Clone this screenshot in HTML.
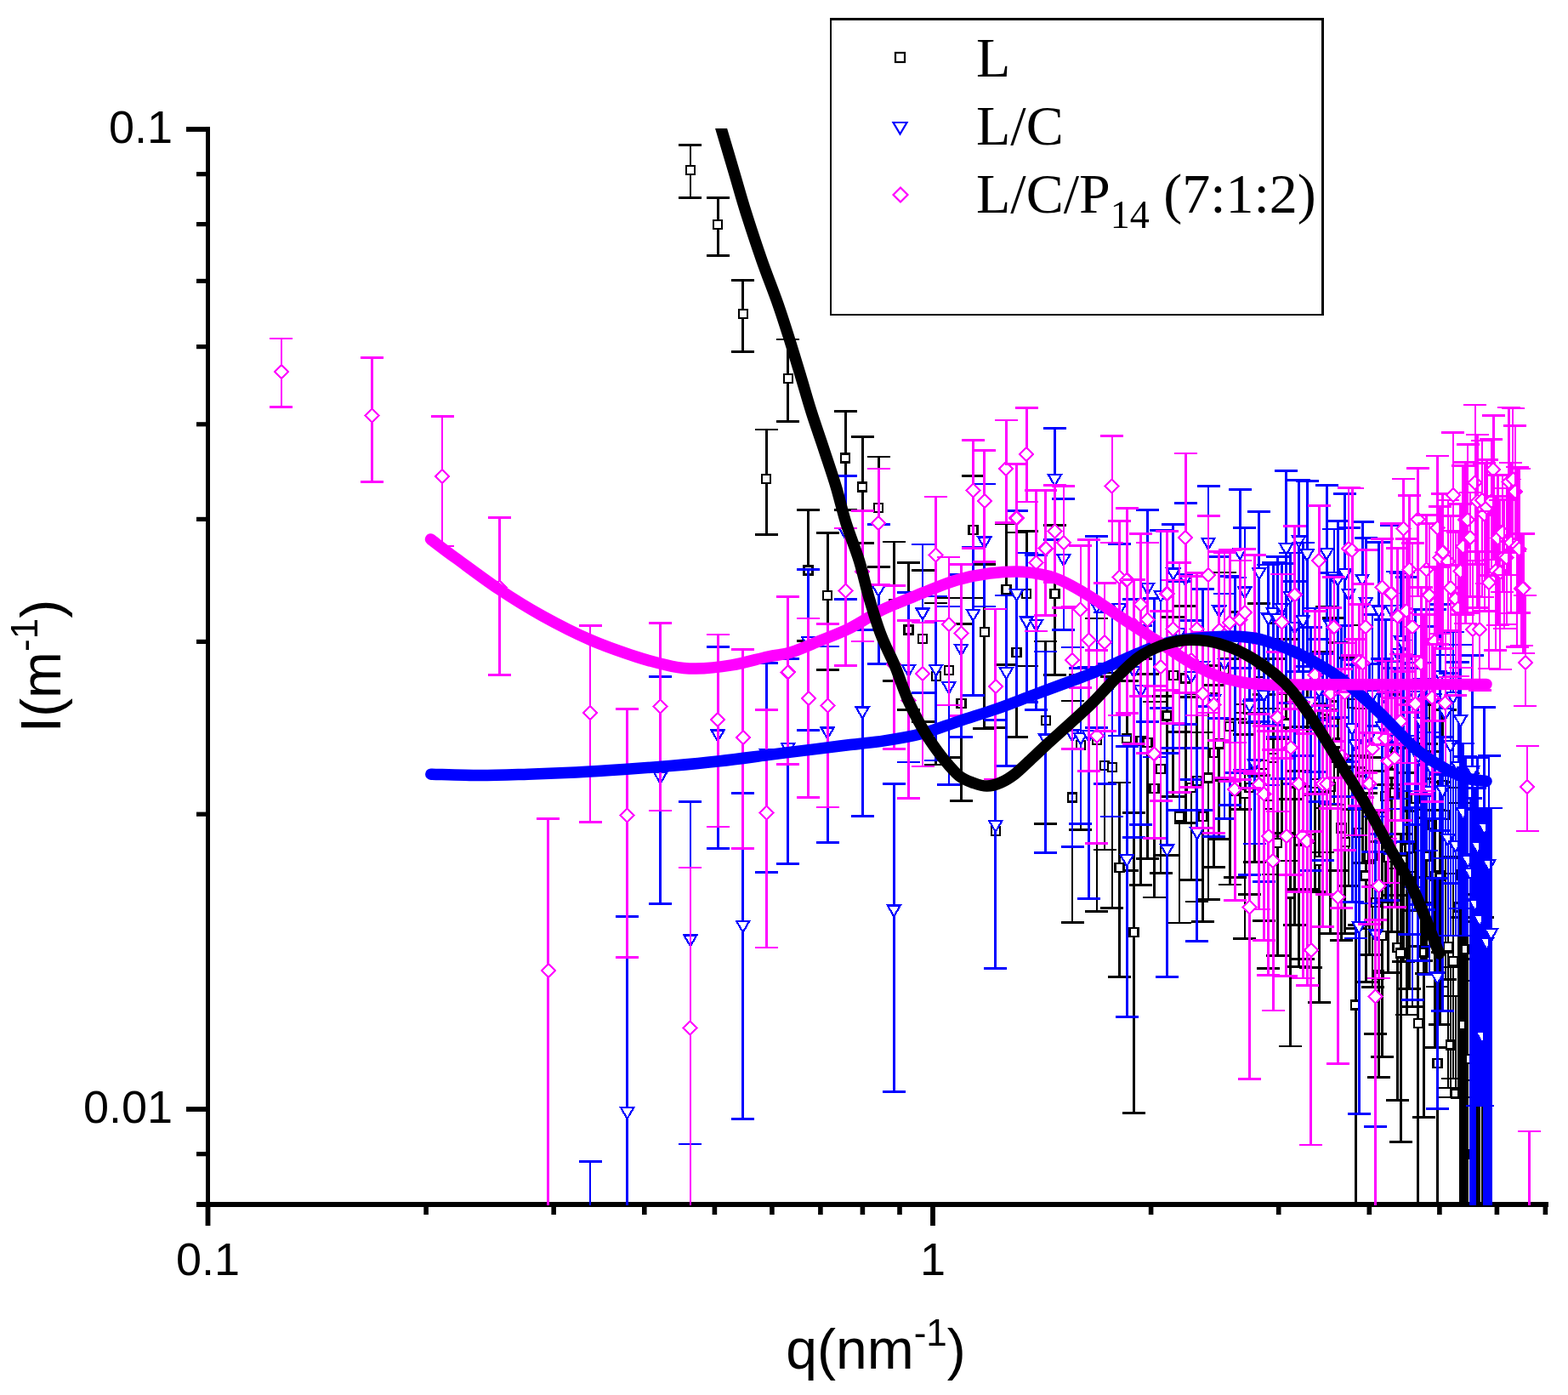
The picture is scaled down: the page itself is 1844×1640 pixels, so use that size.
<!DOCTYPE html>
<html><head><meta charset="utf-8"><title>plot</title>
<style>html,body{margin:0;padding:0;background:#fff;width:1844px;height:1640px;overflow:hidden}</style>
</head><body>
<svg width="1844" height="1640" viewBox="0 0 1844 1640" style="position:absolute;left:0;top:0">
<defs><clipPath id="pc"><rect x="244" y="151" width="1577" height="1266"/></clipPath></defs>
<rect x="242" y="149" width="5" height="1292" fill="#000"/>
<rect x="231" y="1413" width="1590" height="6" fill="#000"/>
<rect x="219" y="1301.1" width="26" height="5.8" fill="#000"/>
<rect x="231" y="954.6" width="14" height="5.2" fill="#000"/>
<rect x="231" y="751.8" width="14" height="5.2" fill="#000"/>
<rect x="231" y="607.8" width="14" height="5.2" fill="#000"/>
<rect x="231" y="496.2" width="14" height="5.2" fill="#000"/>
<rect x="231" y="405.0" width="14" height="5.2" fill="#000"/>
<rect x="231" y="327.8" width="14" height="5.2" fill="#000"/>
<rect x="231" y="261.0" width="14" height="5.2" fill="#000"/>
<rect x="231" y="202.1" width="14" height="5.2" fill="#000"/>
<rect x="219" y="149.1" width="26" height="5.8" fill="#000"/>
<rect x="231" y="1413.0" width="14" height="5.2" fill="#000"/>
<rect x="231" y="1354.1" width="14" height="5.2" fill="#000"/>
<rect x="241.6" y="1415" width="5.8" height="26" fill="#000"/>
<rect x="498.3" y="1415" width="5.6" height="13" fill="#000"/>
<rect x="648.4" y="1415" width="5.6" height="13" fill="#000"/>
<rect x="755.0" y="1415" width="5.6" height="13" fill="#000"/>
<rect x="837.6" y="1415" width="5.6" height="13" fill="#000"/>
<rect x="905.1" y="1415" width="5.6" height="13" fill="#000"/>
<rect x="962.1" y="1415" width="5.6" height="13" fill="#000"/>
<rect x="1011.6" y="1415" width="5.6" height="13" fill="#000"/>
<rect x="1055.2" y="1415" width="5.6" height="13" fill="#000"/>
<rect x="1094.1" y="1415" width="5.8" height="26" fill="#000"/>
<rect x="1350.8" y="1415" width="5.6" height="13" fill="#000"/>
<rect x="1500.9" y="1415" width="5.6" height="13" fill="#000"/>
<rect x="1607.5" y="1415" width="5.6" height="13" fill="#000"/>
<rect x="1690.1" y="1415" width="5.6" height="13" fill="#000"/>
<rect x="1757.6" y="1415" width="5.6" height="13" fill="#000"/>
<rect x="1814.6" y="1415" width="5.6" height="13" fill="#000"/>
<g clip-path="url(#pc)" shape-rendering="crispEdges">
<path d="M811.9,170.7V232.3M798.4,170.7h27M798.4,232.3h27" stroke="#000000" stroke-width="2.8" fill="none"/>
<rect x="806.9" y="195.0" width="10" height="10" fill="#fff" stroke="#000000" stroke-width="2.2"/>
<path d="M844.1,232.3V300.6M830.6,232.3h27M830.6,300.6h27" stroke="#000000" stroke-width="2.8" fill="none"/>
<rect x="839.1" y="259.3" width="10" height="10" fill="#fff" stroke="#000000" stroke-width="2.2"/>
<path d="M873.7,329.5V413.8M860.2,329.5h27M860.2,413.8h27" stroke="#000000" stroke-width="2.8" fill="none"/>
<rect x="868.7" y="364.3" width="10" height="10" fill="#fff" stroke="#000000" stroke-width="2.2"/>
<path d="M901.2,504.9V628.6M887.7,504.9h27M887.7,628.6h27" stroke="#000000" stroke-width="2.8" fill="none"/>
<rect x="896.2" y="558.0" width="10" height="10" fill="#fff" stroke="#000000" stroke-width="2.2"/>
<path d="M926.7,399.0V495.3M913.2,399.0h27M913.2,495.3h27" stroke="#000000" stroke-width="2.8" fill="none"/>
<rect x="921.7" y="440.0" width="10" height="10" fill="#fff" stroke="#000000" stroke-width="2.2"/>
<path d="M950.6,599.5V753.5M937.1,599.5h27M937.1,753.5h27" stroke="#000000" stroke-width="2.8" fill="none"/>
<rect x="945.6" y="665.6" width="10" height="10" fill="#fff" stroke="#000000" stroke-width="2.2"/>
<path d="M973.1,626.2V787.8M959.6,626.2h27M959.6,787.8h27" stroke="#000000" stroke-width="2.8" fill="none"/>
<rect x="968.1" y="695.3" width="10" height="10" fill="#fff" stroke="#000000" stroke-width="2.2"/>
<path d="M994.2,483.7V599.5M980.7,483.7h27M980.7,599.5h27" stroke="#000000" stroke-width="2.8" fill="none"/>
<rect x="989.2" y="533.4" width="10" height="10" fill="#fff" stroke="#000000" stroke-width="2.2"/>
<path d="M1014.2,513.8V638.2M1000.7,513.8h27M1000.7,638.2h27" stroke="#000000" stroke-width="2.8" fill="none"/>
<rect x="1009.2" y="567.6" width="10" height="10" fill="#fff" stroke="#000000" stroke-width="2.2"/>
<path d="M1033.2,537.0V666.5M1019.7,537.0h27M1019.7,666.5h27" stroke="#000000" stroke-width="2.8" fill="none"/>
<rect x="1028.2" y="592.2" width="10" height="10" fill="#fff" stroke="#000000" stroke-width="2.2"/>
<path d="M1051.3,637.0V800.4M1037.8,637.0h27M1037.8,800.4h27" stroke="#000000" stroke-width="2.8" fill="none"/>
<rect x="1046.3" y="705.0" width="10" height="10" fill="#fff" stroke="#000000" stroke-width="2.2"/>
<path d="M1068.5,661.4V834.6M1055.0,661.4h27M1055.0,834.6h27" stroke="#000000" stroke-width="2.8" fill="none"/>
<rect x="1063.5" y="735.6" width="10" height="10" fill="#fff" stroke="#000000" stroke-width="2.2"/>
<path d="M1085.0,670.6V848.3M1071.5,670.6h27M1071.5,848.3h27" stroke="#000000" stroke-width="2.8" fill="none"/>
<rect x="1080.0" y="746.0" width="10" height="10" fill="#fff" stroke="#000000" stroke-width="2.2"/>
<path d="M1100.7,708.9V899.0M1087.2,708.9h27M1087.2,899.0h27" stroke="#000000" stroke-width="2.8" fill="none"/>
<rect x="1095.7" y="790.0" width="10" height="10" fill="#fff" stroke="#000000" stroke-width="2.2"/>
<path d="M1115.9,703.0V890.7M1102.4,703.0h27M1102.4,890.7h27" stroke="#000000" stroke-width="2.8" fill="none"/>
<rect x="1110.9" y="783.2" width="10" height="10" fill="#fff" stroke="#000000" stroke-width="2.2"/>
<path d="M1130.4,733.6V941.6M1116.9,733.6h27M1116.9,941.6h27" stroke="#000000" stroke-width="2.8" fill="none"/>
<rect x="1125.4" y="821.8" width="10" height="10" fill="#fff" stroke="#000000" stroke-width="2.2"/>
<path d="M1144.4,559.5V703.0M1130.9,559.5h27M1130.9,703.0h27" stroke="#000000" stroke-width="2.8" fill="none"/>
<rect x="1139.4" y="617.7" width="10" height="10" fill="#fff" stroke="#000000" stroke-width="2.2"/>
<path d="M1157.8,663.6V856.5M1144.3,663.6h27M1144.3,856.5h27" stroke="#000000" stroke-width="2.8" fill="none"/>
<rect x="1152.8" y="737.8" width="10" height="10" fill="#fff" stroke="#000000" stroke-width="2.2"/>
<path d="M1170.8,855.3V1138.4M1157.3,855.3h27M1157.3,1138.4h27" stroke="#000000" stroke-width="2.8" fill="none"/>
<rect x="1165.8" y="972.1" width="10" height="10" fill="#fff" stroke="#000000" stroke-width="2.2"/>
<path d="M1183.4,615.8V781.4M1169.9,615.8h27M1169.9,781.4h27" stroke="#000000" stroke-width="2.8" fill="none"/>
<rect x="1178.4" y="688.3" width="10" height="10" fill="#fff" stroke="#000000" stroke-width="2.2"/>
<path d="M1195.5,626.0V866.8M1182.0,626.0h27M1182.0,866.8h27" stroke="#000000" stroke-width="2.8" fill="none"/>
<rect x="1190.5" y="762.0" width="10" height="10" fill="#fff" stroke="#000000" stroke-width="2.2"/>
<path d="M1207.3,624.4V783.0M1193.8,624.4h27M1193.8,783.0h27" stroke="#000000" stroke-width="2.8" fill="none"/>
<rect x="1202.3" y="692.8" width="10" height="10" fill="#fff" stroke="#000000" stroke-width="2.2"/>
<path d="M1229.7,754.0V968.2M1216.2,754.0h27M1216.2,968.2h27" stroke="#000000" stroke-width="2.8" fill="none"/>
<rect x="1224.7" y="842.0" width="10" height="10" fill="#fff" stroke="#000000" stroke-width="2.2"/>
<path d="M1240.4,617.5V793.5M1226.9,617.5h27M1226.9,793.5h27" stroke="#000000" stroke-width="2.8" fill="none"/>
<rect x="1235.4" y="692.8" width="10" height="10" fill="#fff" stroke="#000000" stroke-width="2.2"/>
<path d="M1261.0,824.0V1084.7M1247.5,824.0h27M1247.5,1084.7h27" stroke="#000000" stroke-width="2.8" fill="none"/>
<rect x="1256.0" y="932.6" width="10" height="10" fill="#fff" stroke="#000000" stroke-width="2.2"/>
<path d="M1270.9,793.1V975.5M1257.4,793.1h27M1257.4,975.5h27" stroke="#000000" stroke-width="2.8" fill="none"/>
<rect x="1265.9" y="871.0" width="10" height="10" fill="#fff" stroke="#000000" stroke-width="2.2"/>
<path d="M1289.9,727.0V1071.6M1276.4,727.0h27M1276.4,1071.6h27" stroke="#000000" stroke-width="2.8" fill="none"/>
<rect x="1284.9" y="865.2" width="10" height="10" fill="#fff" stroke="#000000" stroke-width="2.2"/>
<path d="M1299.0,791.0V998.9M1285.5,791.0h27M1285.5,998.9h27" stroke="#000000" stroke-width="2.8" fill="none"/>
<rect x="1294.0" y="894.9" width="10" height="10" fill="#fff" stroke="#000000" stroke-width="2.2"/>
<path d="M1307.9,795.4V1067.6M1294.4,795.4h27M1294.4,1067.6h27" stroke="#000000" stroke-width="2.8" fill="none"/>
<rect x="1302.9" y="897.2" width="10" height="10" fill="#fff" stroke="#000000" stroke-width="2.2"/>
<path d="M1325.2,800.4V1023.4M1311.7,800.4h27M1311.7,1023.4h27" stroke="#000000" stroke-width="2.8" fill="none"/>
<rect x="1320.2" y="863.1" width="10" height="10" fill="#fff" stroke="#000000" stroke-width="2.2"/>
<path d="M1341.6,774.7V1040.1M1328.1,774.7h27M1328.1,1040.1h27" stroke="#000000" stroke-width="2.8" fill="none"/>
<rect x="1336.6" y="866.1" width="10" height="10" fill="#fff" stroke="#000000" stroke-width="2.2"/>
<path d="M1349.6,792.7V1009.6M1336.1,792.7h27M1336.1,1009.6h27" stroke="#000000" stroke-width="2.8" fill="none"/>
<rect x="1344.6" y="867.8" width="10" height="10" fill="#fff" stroke="#000000" stroke-width="2.2"/>
<path d="M1357.4,824.9V1054.9M1343.9,824.9h27M1343.9,1054.9h27" stroke="#000000" stroke-width="2.8" fill="none"/>
<rect x="1352.4" y="921.8" width="10" height="10" fill="#fff" stroke="#000000" stroke-width="2.2"/>
<path d="M1365.0,818.4V1026.8M1351.5,818.4h27M1351.5,1026.8h27" stroke="#000000" stroke-width="2.8" fill="none"/>
<rect x="1360.0" y="899.1" width="10" height="10" fill="#fff" stroke="#000000" stroke-width="2.2"/>
<path d="M1372.5,750.9V1005.4M1359.0,750.9h27M1359.0,1005.4h27" stroke="#000000" stroke-width="2.8" fill="none"/>
<rect x="1367.5" y="836.6" width="10" height="10" fill="#fff" stroke="#000000" stroke-width="2.2"/>
<path d="M1379.8,725.3V936.1M1366.3,725.3h27M1366.3,936.1h27" stroke="#000000" stroke-width="2.8" fill="none"/>
<rect x="1374.8" y="789.3" width="10" height="10" fill="#fff" stroke="#000000" stroke-width="2.2"/>
<path d="M1394.1,712.2V967.6M1380.6,712.2h27M1380.6,967.6h27" stroke="#000000" stroke-width="2.8" fill="none"/>
<rect x="1389.1" y="792.4" width="10" height="10" fill="#fff" stroke="#000000" stroke-width="2.2"/>
<path d="M1401.0,819.1V1034.2M1387.5,819.1h27M1387.5,1034.2h27" stroke="#000000" stroke-width="2.8" fill="none"/>
<rect x="1396.0" y="921.0" width="10" height="10" fill="#fff" stroke="#000000" stroke-width="2.2"/>
<path d="M1407.8,815.9V1060.0M1394.3,815.9h27M1394.3,1060.0h27" stroke="#000000" stroke-width="2.8" fill="none"/>
<rect x="1402.8" y="912.7" width="10" height="10" fill="#fff" stroke="#000000" stroke-width="2.2"/>
<path d="M1421.0,815.5V1057.4M1407.5,815.5h27M1407.5,1057.4h27" stroke="#000000" stroke-width="2.8" fill="none"/>
<rect x="1416.0" y="909.6" width="10" height="10" fill="#fff" stroke="#000000" stroke-width="2.2"/>
<path d="M1427.4,805.1V1019.5M1413.9,805.1h27M1413.9,1019.5h27" stroke="#000000" stroke-width="2.8" fill="none"/>
<rect x="1422.4" y="880.0" width="10" height="10" fill="#fff" stroke="#000000" stroke-width="2.2"/>
<path d="M1433.8,782.5V986.5M1420.3,782.5h27M1420.3,986.5h27" stroke="#000000" stroke-width="2.8" fill="none"/>
<rect x="1428.8" y="869.4" width="10" height="10" fill="#fff" stroke="#000000" stroke-width="2.2"/>
<path d="M1440.0,672.9V917.5M1426.5,672.9h27M1426.5,917.5h27" stroke="#000000" stroke-width="2.8" fill="none"/>
<rect x="1435.0" y="782.2" width="10" height="10" fill="#fff" stroke="#000000" stroke-width="2.2"/>
<path d="M1446.1,774.4V1039.9M1432.6,774.4h27M1432.6,1039.9h27" stroke="#000000" stroke-width="2.8" fill="none"/>
<rect x="1441.1" y="849.0" width="10" height="10" fill="#fff" stroke="#000000" stroke-width="2.2"/>
<path d="M1458.1,719.5V951.1M1444.6,719.5h27M1444.6,951.1h27" stroke="#000000" stroke-width="2.8" fill="none"/>
<rect x="1453.1" y="827.8" width="10" height="10" fill="#fff" stroke="#000000" stroke-width="2.2"/>
<path d="M1463.9,863.4V1103.6M1450.4,863.4h27M1450.4,1103.6h27" stroke="#000000" stroke-width="2.8" fill="none"/>
<rect x="1458.9" y="927.7" width="10" height="10" fill="#fff" stroke="#000000" stroke-width="2.2"/>
<path d="M1469.6,849.2V1051.8M1456.1,849.2h27M1456.1,1051.8h27" stroke="#000000" stroke-width="2.8" fill="none"/>
<rect x="1464.6" y="920.8" width="10" height="10" fill="#fff" stroke="#000000" stroke-width="2.2"/>
<path d="M1475.3,838.7V1013.1M1461.8,838.7h27M1461.8,1013.1h27" stroke="#000000" stroke-width="2.8" fill="none"/>
<rect x="1470.3" y="903.1" width="10" height="10" fill="#fff" stroke="#000000" stroke-width="2.2"/>
<path d="M1480.8,709.7V911.3M1467.3,709.7h27M1467.3,911.3h27" stroke="#000000" stroke-width="2.8" fill="none"/>
<rect x="1475.8" y="785.9" width="10" height="10" fill="#fff" stroke="#000000" stroke-width="2.2"/>
<path d="M1486.3,816.2V1082.7M1472.8,816.2h27M1472.8,1082.7h27" stroke="#000000" stroke-width="2.8" fill="none"/>
<rect x="1481.3" y="894.0" width="10" height="10" fill="#fff" stroke="#000000" stroke-width="2.2"/>
<path d="M1491.7,832.9V1138.6M1478.2,832.9h27M1478.2,1138.6h27" stroke="#000000" stroke-width="2.8" fill="none"/>
<rect x="1486.7" y="941.2" width="10" height="10" fill="#fff" stroke="#000000" stroke-width="2.2"/>
<path d="M1497.1,774.7V1027.9M1483.6,774.7h27M1483.6,1027.9h27" stroke="#000000" stroke-width="2.8" fill="none"/>
<rect x="1492.1" y="886.1" width="10" height="10" fill="#fff" stroke="#000000" stroke-width="2.2"/>
<path d="M1502.3,868.4V1123.4M1488.8,868.4h27M1488.8,1123.4h27" stroke="#000000" stroke-width="2.8" fill="none"/>
<rect x="1497.3" y="985.8" width="10" height="10" fill="#fff" stroke="#000000" stroke-width="2.2"/>
<path d="M1507.5,732.5V979.5M1494.0,732.5h27M1494.0,979.5h27" stroke="#000000" stroke-width="2.8" fill="none"/>
<rect x="1502.5" y="806.1" width="10" height="10" fill="#fff" stroke="#000000" stroke-width="2.2"/>
<path d="M1512.6,751.4V1012.0M1499.1,751.4h27M1499.1,1012.0h27" stroke="#000000" stroke-width="2.8" fill="none"/>
<rect x="1507.6" y="845.6" width="10" height="10" fill="#fff" stroke="#000000" stroke-width="2.2"/>
<path d="M1517.6,939.7V1229.9M1504.1,939.7h27M1504.1,1229.9h27" stroke="#000000" stroke-width="2.8" fill="none"/>
<rect x="1512.6" y="1045.5" width="10" height="10" fill="#fff" stroke="#000000" stroke-width="2.2"/>
<path d="M1522.6,805.0V1087.2M1509.1,805.0h27M1509.1,1087.2h27" stroke="#000000" stroke-width="2.8" fill="none"/>
<rect x="1517.6" y="915.6" width="10" height="10" fill="#fff" stroke="#000000" stroke-width="2.2"/>
<path d="M1527.5,906.3V1136.5M1514.0,906.3h27M1514.0,1136.5h27" stroke="#000000" stroke-width="2.8" fill="none"/>
<rect x="1522.5" y="983.6" width="10" height="10" fill="#fff" stroke="#000000" stroke-width="2.2"/>
<path d="M1532.3,854.8V1127.2M1518.8,854.8h27M1518.8,1127.2h27" stroke="#000000" stroke-width="2.8" fill="none"/>
<rect x="1527.3" y="981.3" width="10" height="10" fill="#fff" stroke="#000000" stroke-width="2.2"/>
<path d="M1537.1,807.3V1045.5M1523.6,807.3h27M1523.6,1045.5h27" stroke="#000000" stroke-width="2.8" fill="none"/>
<rect x="1532.1" y="924.5" width="10" height="10" fill="#fff" stroke="#000000" stroke-width="2.2"/>
<path d="M1541.8,862.4V1137.7M1528.3,862.4h27M1528.3,1137.7h27" stroke="#000000" stroke-width="2.8" fill="none"/>
<rect x="1536.8" y="981.0" width="10" height="10" fill="#fff" stroke="#000000" stroke-width="2.2"/>
<path d="M1546.5,827.6V1048.2M1533.0,827.6h27M1533.0,1048.2h27" stroke="#000000" stroke-width="2.8" fill="none"/>
<rect x="1541.5" y="916.1" width="10" height="10" fill="#fff" stroke="#000000" stroke-width="2.2"/>
<path d="M1551.1,931.7V1178.3M1537.6,931.7h27M1537.6,1178.3h27" stroke="#000000" stroke-width="2.8" fill="none"/>
<rect x="1546.1" y="1006.9" width="10" height="10" fill="#fff" stroke="#000000" stroke-width="2.2"/>
<path d="M1555.6,766.4V1001.9M1542.1,766.4h27M1542.1,1001.9h27" stroke="#000000" stroke-width="2.8" fill="none"/>
<rect x="1550.6" y="838.5" width="10" height="10" fill="#fff" stroke="#000000" stroke-width="2.2"/>
<path d="M1560.1,713.1V949.9M1546.6,713.1h27M1546.6,949.9h27" stroke="#000000" stroke-width="2.8" fill="none"/>
<rect x="1555.1" y="830.4" width="10" height="10" fill="#fff" stroke="#000000" stroke-width="2.2"/>
<path d="M1564.6,844.1V1097.3M1551.1,844.1h27M1551.1,1097.3h27" stroke="#000000" stroke-width="2.8" fill="none"/>
<rect x="1559.6" y="919.8" width="10" height="10" fill="#fff" stroke="#000000" stroke-width="2.2"/>
<path d="M1568.9,726.2V945.9M1555.4,726.2h27M1555.4,945.9h27" stroke="#000000" stroke-width="2.8" fill="none"/>
<rect x="1563.9" y="824.4" width="10" height="10" fill="#fff" stroke="#000000" stroke-width="2.2"/>
<path d="M1573.3,755.1V1023.4M1559.8,755.1h27M1559.8,1023.4h27" stroke="#000000" stroke-width="2.8" fill="none"/>
<rect x="1568.3" y="868.5" width="10" height="10" fill="#fff" stroke="#000000" stroke-width="2.2"/>
<path d="M1577.6,895.3V1105.8M1564.1,895.3h27M1564.1,1105.8h27" stroke="#000000" stroke-width="2.8" fill="none"/>
<rect x="1572.6" y="968.6" width="10" height="10" fill="#fff" stroke="#000000" stroke-width="2.2"/>
<path d="M1586.0,773.5V1041.6M1572.5,773.5h27M1572.5,1041.6h27" stroke="#000000" stroke-width="2.8" fill="none"/>
<rect x="1581.0" y="893.2" width="10" height="10" fill="#fff" stroke="#000000" stroke-width="2.2"/>
<path d="M1590.1,735.0V951.8M1576.6,735.0h27M1576.6,951.8h27" stroke="#000000" stroke-width="2.8" fill="none"/>
<rect x="1585.1" y="821.9" width="10" height="10" fill="#fff" stroke="#000000" stroke-width="2.2"/>
<path d="M1598.2,888.7V1087.3M1584.7,888.7h27M1584.7,1087.3h27" stroke="#000000" stroke-width="2.8" fill="none"/>
<rect x="1593.2" y="974.0" width="10" height="10" fill="#fff" stroke="#000000" stroke-width="2.2"/>
<path d="M1602.2,833.0V1014.8M1588.7,833.0h27M1588.7,1014.8h27" stroke="#000000" stroke-width="2.8" fill="none"/>
<rect x="1597.2" y="902.4" width="10" height="10" fill="#fff" stroke="#000000" stroke-width="2.2"/>
<path d="M1606.2,932.1V1154.1M1592.7,932.1h27M1592.7,1154.1h27" stroke="#000000" stroke-width="2.8" fill="none"/>
<rect x="1601.2" y="1024.4" width="10" height="10" fill="#fff" stroke="#000000" stroke-width="2.2"/>
<path d="M1610.1,890.7V1122.4M1596.6,890.7h27M1596.6,1122.4h27" stroke="#000000" stroke-width="2.8" fill="none"/>
<rect x="1605.1" y="1002.1" width="10" height="10" fill="#fff" stroke="#000000" stroke-width="2.2"/>
<path d="M1614.0,906.8V1160.1M1600.5,906.8h27M1600.5,1160.1h27" stroke="#000000" stroke-width="2.8" fill="none"/>
<rect x="1609.0" y="1000.7" width="10" height="10" fill="#fff" stroke="#000000" stroke-width="2.2"/>
<path d="M1617.8,954.1V1215.3M1604.3,954.1h27M1604.3,1215.3h27" stroke="#000000" stroke-width="2.8" fill="none"/>
<rect x="1612.8" y="1055.9" width="10" height="10" fill="#fff" stroke="#000000" stroke-width="2.2"/>
<path d="M1621.6,1041.7V1266.6M1608.1,1041.7h27M1608.1,1266.6h27" stroke="#000000" stroke-width="2.8" fill="none"/>
<rect x="1616.6" y="1141.3" width="10" height="10" fill="#fff" stroke="#000000" stroke-width="2.2"/>
<path d="M1629.1,801.0V1060.6M1615.6,801.0h27M1615.6,1060.6h27" stroke="#000000" stroke-width="2.8" fill="none"/>
<rect x="1624.1" y="930.7" width="10" height="10" fill="#fff" stroke="#000000" stroke-width="2.2"/>
<path d="M1632.8,922.5V1143.4M1619.3,922.5h27M1619.3,1143.4h27" stroke="#000000" stroke-width="2.8" fill="none"/>
<rect x="1627.8" y="1002.8" width="10" height="10" fill="#fff" stroke="#000000" stroke-width="2.2"/>
<path d="M1636.4,816.2V1095.3M1622.9,816.2h27M1622.9,1095.3h27" stroke="#000000" stroke-width="2.8" fill="none"/>
<rect x="1631.4" y="904.6" width="10" height="10" fill="#fff" stroke="#000000" stroke-width="2.2"/>
<path d="M1640.1,805.8V1052.8M1626.6,805.8h27M1626.6,1052.8h27" stroke="#000000" stroke-width="2.8" fill="none"/>
<rect x="1635.1" y="926.8" width="10" height="10" fill="#fff" stroke="#000000" stroke-width="2.2"/>
<path d="M1643.6,1021.0V1293.7M1630.1,1021.0h27M1630.1,1293.7h27" stroke="#000000" stroke-width="2.8" fill="none"/>
<rect x="1638.6" y="1109.1" width="10" height="10" fill="#fff" stroke="#000000" stroke-width="2.2"/>
<path d="M1650.7,879.4V1130.5M1637.2,879.4h27M1637.2,1130.5h27" stroke="#000000" stroke-width="2.8" fill="none"/>
<rect x="1645.7" y="1005.5" width="10" height="10" fill="#fff" stroke="#000000" stroke-width="2.2"/>
<path d="M1654.2,908.6V1192.9M1640.7,908.6h27M1640.7,1192.9h27" stroke="#000000" stroke-width="2.8" fill="none"/>
<rect x="1649.2" y="993.3" width="10" height="10" fill="#fff" stroke="#000000" stroke-width="2.2"/>
<path d="M1657.6,868.0V1162.5M1644.1,868.0h27M1644.1,1162.5h27" stroke="#000000" stroke-width="2.8" fill="none"/>
<rect x="1652.6" y="992.2" width="10" height="10" fill="#fff" stroke="#000000" stroke-width="2.2"/>
<path d="M1661.0,953.2V1183.7M1647.5,953.2h27M1647.5,1183.7h27" stroke="#000000" stroke-width="2.8" fill="none"/>
<rect x="1656.0" y="1025.0" width="10" height="10" fill="#fff" stroke="#000000" stroke-width="2.2"/>
<path d="M1664.4,824.6V1070.2M1650.9,824.6h27M1650.9,1070.2h27" stroke="#000000" stroke-width="2.8" fill="none"/>
<rect x="1659.4" y="934.2" width="10" height="10" fill="#fff" stroke="#000000" stroke-width="2.2"/>
<path d="M1671.1,828.6V1129.3M1657.6,828.6h27M1657.6,1129.3h27" stroke="#000000" stroke-width="2.8" fill="none"/>
<rect x="1666.1" y="951.4" width="10" height="10" fill="#fff" stroke="#000000" stroke-width="2.2"/>
<path d="M1674.4,1031.3V1313.4M1660.9,1031.3h27M1660.9,1313.4h27" stroke="#000000" stroke-width="2.8" fill="none"/>
<rect x="1669.4" y="1114.4" width="10" height="10" fill="#fff" stroke="#000000" stroke-width="2.2"/>
<path d="M1677.6,874.1V1144.2M1664.1,874.1h27M1664.1,1144.2h27" stroke="#000000" stroke-width="2.8" fill="none"/>
<rect x="1672.6" y="1001.6" width="10" height="10" fill="#fff" stroke="#000000" stroke-width="2.2"/>
<path d="M1680.9,808.4V1061.1M1667.4,808.4h27M1667.4,1061.1h27" stroke="#000000" stroke-width="2.8" fill="none"/>
<rect x="1675.9" y="915.4" width="10" height="10" fill="#fff" stroke="#000000" stroke-width="2.2"/>
<path d="M1684.1,883.1V1112.5M1670.6,883.1h27M1670.6,1112.5h27" stroke="#000000" stroke-width="2.8" fill="none"/>
<rect x="1679.1" y="964.5" width="10" height="10" fill="#fff" stroke="#000000" stroke-width="2.2"/>
<path d="M1687.2,952.1V1231.3M1673.7,952.1h27M1673.7,1231.3h27" stroke="#000000" stroke-width="2.8" fill="none"/>
<rect x="1682.2" y="1024.7" width="10" height="10" fill="#fff" stroke="#000000" stroke-width="2.2"/>
<path d="M1693.5,919.3V1204.8M1680.0,919.3h27M1680.0,1204.8h27" stroke="#000000" stroke-width="2.8" fill="none"/>
<rect x="1688.5" y="1024.6" width="10" height="10" fill="#fff" stroke="#000000" stroke-width="2.2"/>
<path d="M1696.6,821.7V1119.3M1683.1,821.7h27M1683.1,1119.3h27" stroke="#000000" stroke-width="2.4" fill="none"/>
<rect x="1691.6" y="917.7" width="10" height="10" fill="#fff" stroke="#000000" stroke-width="2.2"/>
<path d="M1699.7,834.5V1151.5M1686.2,834.5h27M1686.2,1151.5h27" stroke="#000000" stroke-width="2.4" fill="none"/>
<rect x="1694.7" y="952.7" width="10" height="10" fill="#fff" stroke="#000000" stroke-width="2.2"/>
<path d="M1702.7,1027.1V1278.9M1689.2,1027.1h27M1689.2,1278.9h27" stroke="#000000" stroke-width="2.4" fill="none"/>
<rect x="1697.7" y="1107.8" width="10" height="10" fill="#fff" stroke="#000000" stroke-width="2.2"/>
<path d="M1705.8,1136.9V1290.0M1692.3,1136.9h27M1692.3,1290.0h27" stroke="#000000" stroke-width="2.4" fill="none"/>
<rect x="1700.8" y="1223.4" width="10" height="10" fill="#fff" stroke="#000000" stroke-width="2.2"/>
<path d="M1708.8,1007.0V1268.2M1695.3,1007.0h27M1695.3,1268.2h27" stroke="#000000" stroke-width="2.4" fill="none"/>
<rect x="1703.8" y="1125.1" width="10" height="10" fill="#fff" stroke="#000000" stroke-width="2.2"/>
<path d="M1711.7,1171.0V1290.0M1698.2,1171.0h27M1698.2,1290.0h27" stroke="#000000" stroke-width="2.4" fill="none"/>
<rect x="1706.7" y="1281.3" width="10" height="10" fill="#fff" stroke="#000000" stroke-width="2.2"/>
<path d="M1714.7,925.8V1290.0M1701.2,925.8h27M1701.2,1290.0h27" stroke="#000000" stroke-width="2.4" fill="none"/>
<rect x="1709.7" y="1061.4" width="10" height="10" fill="#fff" stroke="#000000" stroke-width="2.2"/>
<path d="M1717.6,943.7V1500.0M1704.1,943.7h27M1704.1,1500.0h27" stroke="#000000" stroke-width="2.4" fill="none"/>
<rect x="1712.6" y="1023.5" width="10" height="10" fill="#fff" stroke="#000000" stroke-width="2.2"/>
<path d="M1720.5,1078.6V1500.0M1707.0,1078.6h27M1707.0,1500.0h27" stroke="#000000" stroke-width="2.4" fill="none"/>
<rect x="1715.5" y="1200.3" width="10" height="10" fill="#fff" stroke="#000000" stroke-width="2.2"/>
<path d="M1723.4,1008.6V1500.0M1709.9,1008.6h27M1709.9,1500.0h27" stroke="#000000" stroke-width="2.4" fill="none"/>
<rect x="1718.4" y="1111.1" width="10" height="10" fill="#fff" stroke="#000000" stroke-width="2.2"/>
<path d="M1726.2,908.8V1500.0M1712.7,908.8h27M1712.7,1500.0h27" stroke="#000000" stroke-width="2.4" fill="none"/>
<rect x="1721.2" y="1016.9" width="10" height="10" fill="#fff" stroke="#000000" stroke-width="2.2"/>
<path d="M1729.1,1153.2V1500.0M1715.6,1153.2h27M1715.6,1500.0h27" stroke="#000000" stroke-width="2.4" fill="none"/>
<rect x="1724.1" y="1239.7" width="10" height="10" fill="#fff" stroke="#000000" stroke-width="2.2"/>
<path d="M1731.9,1269.7V1500.0M1718.4,1269.7h27M1718.4,1500.0h27" stroke="#000000" stroke-width="2.4" fill="none"/>
<rect x="1726.9" y="1352.2" width="10" height="10" fill="#fff" stroke="#000000" stroke-width="2.2"/>
<path d="M1734.7,1051.3V1500.0M1721.2,1051.3h27M1721.2,1500.0h27" stroke="#000000" stroke-width="2.4" fill="none"/>
<rect x="1729.7" y="1175.0" width="10" height="10" fill="#fff" stroke="#000000" stroke-width="2.2"/>
<path d="M1737.5,1127.4V1500.0M1724.0,1127.4h27M1724.0,1500.0h27" stroke="#000000" stroke-width="2.4" fill="none"/>
<rect x="1732.5" y="1240.7" width="10" height="10" fill="#fff" stroke="#000000" stroke-width="2.2"/>
<path d="M1740.2,1083.6V1500.0M1726.7,1083.6h27M1726.7,1500.0h27" stroke="#000000" stroke-width="2.4" fill="none"/>
<rect x="1735.2" y="1189.1" width="10" height="10" fill="#fff" stroke="#000000" stroke-width="2.2"/>
<path d="M1743.0,1078.4V1500.0M1729.5,1078.4h27M1729.5,1500.0h27" stroke="#000000" stroke-width="2.4" fill="none"/>
<rect x="1738.0" y="1200.8" width="10" height="10" fill="#fff" stroke="#000000" stroke-width="2.2"/>
<path d="M1316.6,920.0V1148.4M1303.1,920.0h27M1303.1,1148.4h27" stroke="#000000" stroke-width="2.8" fill="none"/>
<rect x="1311.6" y="1015.0" width="10" height="10" fill="#fff" stroke="#000000" stroke-width="2.2"/>
<path d="M1333.5,955.7V1308.2M1320.0,955.7h27M1320.0,1308.2h27" stroke="#000000" stroke-width="2.8" fill="none"/>
<rect x="1328.5" y="1090.7" width="10" height="10" fill="#fff" stroke="#000000" stroke-width="2.2"/>
<path d="M1387.0,860.1V1084.9M1373.5,860.1h27M1373.5,1084.9h27" stroke="#000000" stroke-width="2.8" fill="none"/>
<rect x="1382.0" y="955.0" width="10" height="10" fill="#fff" stroke="#000000" stroke-width="2.2"/>
<path d="M1414.4,861.0V1083.6M1400.9,861.0h27M1400.9,1083.6h27" stroke="#000000" stroke-width="2.8" fill="none"/>
<rect x="1409.4" y="955.0" width="10" height="10" fill="#fff" stroke="#000000" stroke-width="2.2"/>
<path d="M1452.1,845.7V1031.5M1438.6,845.7h27M1438.6,1031.5h27" stroke="#000000" stroke-width="2.8" fill="none"/>
<rect x="1447.1" y="925.0" width="10" height="10" fill="#fff" stroke="#000000" stroke-width="2.2"/>
<path d="M1581.8,901.6V1097.4M1568.3,901.6h27M1568.3,1097.4h27" stroke="#000000" stroke-width="2.8" fill="none"/>
<rect x="1576.8" y="985.0" width="10" height="10" fill="#fff" stroke="#000000" stroke-width="2.2"/>
<path d="M1594.2,1091.4V1500.0M1580.7,1091.4h27M1580.7,1500.0h27" stroke="#000000" stroke-width="2.8" fill="none"/>
<rect x="1589.2" y="1176.4" width="10" height="10" fill="#fff" stroke="#000000" stroke-width="2.2"/>
<path d="M1625.4,989.3V1242.3M1611.9,989.3h27M1611.9,1242.3h27" stroke="#000000" stroke-width="2.8" fill="none"/>
<rect x="1620.4" y="1095.0" width="10" height="10" fill="#fff" stroke="#000000" stroke-width="2.2"/>
<path d="M1647.2,980.4V1342.8M1633.7,980.4h27M1633.7,1342.8h27" stroke="#000000" stroke-width="2.8" fill="none"/>
<rect x="1642.2" y="1115.4" width="10" height="10" fill="#fff" stroke="#000000" stroke-width="2.2"/>
<path d="M1667.8,1112.8V1500.0M1654.3,1112.8h27M1654.3,1500.0h27" stroke="#000000" stroke-width="2.8" fill="none"/>
<rect x="1662.8" y="1197.8" width="10" height="10" fill="#fff" stroke="#000000" stroke-width="2.2"/>
<path d="M1690.4,1160.0V1500.0M1676.9,1160.0h27M1676.9,1500.0h27" stroke="#000000" stroke-width="2.8" fill="none"/>
<rect x="1685.4" y="1245.0" width="10" height="10" fill="#fff" stroke="#000000" stroke-width="2.2"/>
<path d="M694.0,1365.4V1500.0M680.5,1365.4h27M680.5,1500.0h27" stroke="#0000ff" stroke-width="2.8" fill="none"/>
<path d="M686.5,1458.2h15l-7.5,13z" fill="#fff" stroke="#0000ff" stroke-width="2.2" stroke-linejoin="miter"/>
<path d="M737.6,1077.8V1500.0M724.1,1077.8h27M724.1,1500.0h27" stroke="#0000ff" stroke-width="2.8" fill="none"/>
<path d="M730.1,1302.3h15l-7.5,13z" fill="#fff" stroke="#0000ff" stroke-width="2.2" stroke-linejoin="miter"/>
<path d="M776.6,795.6V1062.1M763.1,795.6h27M763.1,1062.1h27" stroke="#0000ff" stroke-width="2.8" fill="none"/>
<path d="M769.1,908.1h15l-7.5,13z" fill="#fff" stroke="#0000ff" stroke-width="2.2" stroke-linejoin="miter"/>
<path d="M811.9,942.7V1344.9M798.4,942.7h27M798.4,1344.9h27" stroke="#0000ff" stroke-width="2.8" fill="none"/>
<path d="M804.4,1099.4h15l-7.5,13z" fill="#fff" stroke="#0000ff" stroke-width="2.2" stroke-linejoin="miter"/>
<path d="M844.1,760.4V997.4M830.6,760.4h27M830.6,997.4h27" stroke="#0000ff" stroke-width="2.8" fill="none"/>
<path d="M836.6,858.5h15l-7.5,13z" fill="#fff" stroke="#0000ff" stroke-width="2.2" stroke-linejoin="miter"/>
<path d="M873.7,932.2V1315.4M860.2,932.2h27M860.2,1315.4h27" stroke="#0000ff" stroke-width="2.8" fill="none"/>
<path d="M866.2,1083.0h15l-7.5,13z" fill="#fff" stroke="#0000ff" stroke-width="2.2" stroke-linejoin="miter"/>
<path d="M901.2,779.4V1025.8M887.7,779.4h27M887.7,1025.8h27" stroke="#0000ff" stroke-width="2.8" fill="none"/>
<path d="M893.7,881.1h15l-7.5,13z" fill="#fff" stroke="#0000ff" stroke-width="2.2" stroke-linejoin="miter"/>
<path d="M926.7,774.5V1015.7M913.2,774.5h27M913.2,1015.7h27" stroke="#0000ff" stroke-width="2.8" fill="none"/>
<path d="M919.2,874.2h15l-7.5,13z" fill="#fff" stroke="#0000ff" stroke-width="2.2" stroke-linejoin="miter"/>
<path d="M950.6,669.6V858.5M937.1,669.6h27M937.1,858.5h27" stroke="#0000ff" stroke-width="2.8" fill="none"/>
<path d="M943.1,748.7h15l-7.5,13z" fill="#fff" stroke="#0000ff" stroke-width="2.2" stroke-linejoin="miter"/>
<path d="M973.1,760.0V990.3M959.6,760.0h27M959.6,990.3h27" stroke="#0000ff" stroke-width="2.8" fill="none"/>
<path d="M965.6,855.5h15l-7.5,13z" fill="#fff" stroke="#0000ff" stroke-width="2.2" stroke-linejoin="miter"/>
<path d="M994.2,559.6V704.8M980.7,559.6h27M980.7,704.8h27" stroke="#0000ff" stroke-width="2.8" fill="none"/>
<path d="M986.7,620.7h15l-7.5,13z" fill="#fff" stroke="#0000ff" stroke-width="2.2" stroke-linejoin="miter"/>
<path d="M1014.2,740.3V959.6M1000.7,740.3h27M1000.7,959.6h27" stroke="#0000ff" stroke-width="2.8" fill="none"/>
<path d="M1006.7,831.5h15l-7.5,13z" fill="#fff" stroke="#0000ff" stroke-width="2.2" stroke-linejoin="miter"/>
<path d="M1033.2,616.6V780.6M1019.7,616.6h27M1019.7,780.6h27" stroke="#0000ff" stroke-width="2.8" fill="none"/>
<path d="M1025.7,688.0h15l-7.5,13z" fill="#fff" stroke="#0000ff" stroke-width="2.2" stroke-linejoin="miter"/>
<path d="M1051.3,921.6V1283.5M1037.8,921.6h27M1037.8,1283.5h27" stroke="#0000ff" stroke-width="2.8" fill="none"/>
<path d="M1043.8,1064.5h15l-7.5,13z" fill="#fff" stroke="#0000ff" stroke-width="2.2" stroke-linejoin="miter"/>
<path d="M1068.5,696.2V896.0M1055.0,696.2h27M1055.0,896.0h27" stroke="#0000ff" stroke-width="2.8" fill="none"/>
<path d="M1061.0,782.0h15l-7.5,13z" fill="#fff" stroke="#0000ff" stroke-width="2.2" stroke-linejoin="miter"/>
<path d="M1085.0,639.9V814.8M1071.5,639.9h27M1071.5,814.8h27" stroke="#0000ff" stroke-width="2.8" fill="none"/>
<path d="M1077.5,715.4h15l-7.5,13z" fill="#fff" stroke="#0000ff" stroke-width="2.2" stroke-linejoin="miter"/>
<path d="M1100.7,700.9V894.0M1087.2,700.9h27M1087.2,894.0h27" stroke="#0000ff" stroke-width="2.8" fill="none"/>
<path d="M1093.2,781.7h15l-7.5,13z" fill="#fff" stroke="#0000ff" stroke-width="2.2" stroke-linejoin="miter"/>
<path d="M1115.9,713.0V922.8M1102.4,713.0h27M1102.4,922.8h27" stroke="#0000ff" stroke-width="2.8" fill="none"/>
<path d="M1108.4,802.2h15l-7.5,13z" fill="#fff" stroke="#0000ff" stroke-width="2.2" stroke-linejoin="miter"/>
<path d="M1130.4,675.6V866.8M1116.9,675.6h27M1116.9,866.8h27" stroke="#0000ff" stroke-width="2.8" fill="none"/>
<path d="M1122.9,757.8h15l-7.5,13z" fill="#fff" stroke="#0000ff" stroke-width="2.2" stroke-linejoin="miter"/>
<path d="M1144.4,643.0V817.3M1130.9,643.0h27M1130.9,817.3h27" stroke="#0000ff" stroke-width="2.8" fill="none"/>
<path d="M1136.9,716.9h15l-7.5,13z" fill="#fff" stroke="#0000ff" stroke-width="2.2" stroke-linejoin="miter"/>
<path d="M1157.8,569.0V713.0M1144.3,569.0h27M1144.3,713.0h27" stroke="#0000ff" stroke-width="2.8" fill="none"/>
<path d="M1150.3,631.5h15l-7.5,13z" fill="#fff" stroke="#0000ff" stroke-width="2.2" stroke-linejoin="miter"/>
<path d="M1170.8,846.6V1138.4M1157.3,846.6h27M1157.3,1138.4h27" stroke="#0000ff" stroke-width="2.8" fill="none"/>
<path d="M1163.3,965.0h15l-7.5,13z" fill="#fff" stroke="#0000ff" stroke-width="2.2" stroke-linejoin="miter"/>
<path d="M1183.4,700.0V900.4M1169.9,700.0h27M1169.9,900.4h27" stroke="#0000ff" stroke-width="2.8" fill="none"/>
<path d="M1175.9,785.2h15l-7.5,13z" fill="#fff" stroke="#0000ff" stroke-width="2.2" stroke-linejoin="miter"/>
<path d="M1195.5,600.5V823.8M1182.0,600.5h27M1182.0,823.8h27" stroke="#0000ff" stroke-width="2.8" fill="none"/>
<path d="M1188.0,693.3h15l-7.5,13z" fill="#fff" stroke="#0000ff" stroke-width="2.2" stroke-linejoin="miter"/>
<path d="M1207.3,650.0V825.8M1193.8,650.0h27M1193.8,825.8h27" stroke="#0000ff" stroke-width="2.8" fill="none"/>
<path d="M1199.8,725.5h15l-7.5,13z" fill="#fff" stroke="#0000ff" stroke-width="2.2" stroke-linejoin="miter"/>
<path d="M1218.6,652.5V834.6M1205.1,652.5h27M1205.1,834.6h27" stroke="#0000ff" stroke-width="2.8" fill="none"/>
<path d="M1211.1,728.8h15l-7.5,13z" fill="#fff" stroke="#0000ff" stroke-width="2.2" stroke-linejoin="miter"/>
<path d="M1229.7,766.0V1002.8M1216.2,766.0h27M1216.2,1002.8h27" stroke="#0000ff" stroke-width="2.8" fill="none"/>
<path d="M1222.2,863.5h15l-7.5,13z" fill="#fff" stroke="#0000ff" stroke-width="2.2" stroke-linejoin="miter"/>
<path d="M1240.4,503.2V634.6M1226.9,503.2h27M1226.9,634.6h27" stroke="#0000ff" stroke-width="2.8" fill="none"/>
<path d="M1232.9,558.1h15l-7.5,13z" fill="#fff" stroke="#0000ff" stroke-width="2.2" stroke-linejoin="miter"/>
<path d="M1250.9,586.8V740.4M1237.4,586.8h27M1237.4,740.4h27" stroke="#0000ff" stroke-width="2.8" fill="none"/>
<path d="M1243.4,652.0h15l-7.5,13z" fill="#fff" stroke="#0000ff" stroke-width="2.2" stroke-linejoin="miter"/>
<path d="M1261.0,761.0V995.2M1247.5,761.0h27M1247.5,995.2h27" stroke="#0000ff" stroke-width="2.8" fill="none"/>
<path d="M1253.5,858.5h15l-7.5,13z" fill="#fff" stroke="#0000ff" stroke-width="2.2" stroke-linejoin="miter"/>
<path d="M1270.9,785.8V968.2M1257.4,785.8h27M1257.4,968.2h27" stroke="#0000ff" stroke-width="2.8" fill="none"/>
<path d="M1263.4,862.2h15l-7.5,13z" fill="#fff" stroke="#0000ff" stroke-width="2.2" stroke-linejoin="miter"/>
<path d="M1280.5,784.2V1056.6M1267.0,784.2h27M1267.0,1056.6h27" stroke="#0000ff" stroke-width="2.8" fill="none"/>
<path d="M1273.0,858.9h15l-7.5,13z" fill="#fff" stroke="#0000ff" stroke-width="2.2" stroke-linejoin="miter"/>
<path d="M1289.9,630.2V855.3M1276.4,630.2h27M1276.4,855.3h27" stroke="#0000ff" stroke-width="2.8" fill="none"/>
<path d="M1282.4,707.5h15l-7.5,13z" fill="#fff" stroke="#0000ff" stroke-width="2.2" stroke-linejoin="miter"/>
<path d="M1299.0,719.9V921.6M1285.5,719.9h27M1285.5,921.6h27" stroke="#0000ff" stroke-width="2.8" fill="none"/>
<path d="M1291.5,780.2h15l-7.5,13z" fill="#fff" stroke="#0000ff" stroke-width="2.2" stroke-linejoin="miter"/>
<path d="M1307.9,717.3V960.0M1294.4,717.3h27M1294.4,960.0h27" stroke="#0000ff" stroke-width="2.8" fill="none"/>
<path d="M1300.4,798.3h15l-7.5,13z" fill="#fff" stroke="#0000ff" stroke-width="2.2" stroke-linejoin="miter"/>
<path d="M1316.6,639.7V864.9M1303.1,639.7h27M1303.1,864.9h27" stroke="#0000ff" stroke-width="2.8" fill="none"/>
<path d="M1309.1,710.3h15l-7.5,13z" fill="#fff" stroke="#0000ff" stroke-width="2.2" stroke-linejoin="miter"/>
<path d="M1333.5,704.6V984.5M1320.0,704.6h27M1320.0,984.5h27" stroke="#0000ff" stroke-width="2.8" fill="none"/>
<path d="M1326.0,783.6h15l-7.5,13z" fill="#fff" stroke="#0000ff" stroke-width="2.2" stroke-linejoin="miter"/>
<path d="M1341.6,735.8V969.1M1328.1,735.8h27M1328.1,969.1h27" stroke="#0000ff" stroke-width="2.8" fill="none"/>
<path d="M1334.1,806.1h15l-7.5,13z" fill="#fff" stroke="#0000ff" stroke-width="2.2" stroke-linejoin="miter"/>
<path d="M1349.6,599.7V848.6M1336.1,599.7h27M1336.1,848.6h27" stroke="#0000ff" stroke-width="2.8" fill="none"/>
<path d="M1342.1,686.0h15l-7.5,13z" fill="#fff" stroke="#0000ff" stroke-width="2.2" stroke-linejoin="miter"/>
<path d="M1357.4,703.1V890.0M1343.9,703.1h27M1343.9,890.0h27" stroke="#0000ff" stroke-width="2.8" fill="none"/>
<path d="M1349.9,752.0h15l-7.5,13z" fill="#fff" stroke="#0000ff" stroke-width="2.2" stroke-linejoin="miter"/>
<path d="M1365.0,623.4V832.4M1351.5,623.4h27M1351.5,832.4h27" stroke="#0000ff" stroke-width="2.8" fill="none"/>
<path d="M1357.5,694.6h15l-7.5,13z" fill="#fff" stroke="#0000ff" stroke-width="2.2" stroke-linejoin="miter"/>
<path d="M1379.8,616.3V879.3M1366.3,616.3h27M1366.3,879.3h27" stroke="#0000ff" stroke-width="2.8" fill="none"/>
<path d="M1372.3,668.5h15l-7.5,13z" fill="#fff" stroke="#0000ff" stroke-width="2.2" stroke-linejoin="miter"/>
<path d="M1387.0,683.6V952.5M1373.5,683.6h27M1373.5,952.5h27" stroke="#0000ff" stroke-width="2.8" fill="none"/>
<path d="M1379.5,739.2h15l-7.5,13z" fill="#fff" stroke="#0000ff" stroke-width="2.2" stroke-linejoin="miter"/>
<path d="M1394.1,591.4V851.4M1380.6,591.4h27M1380.6,851.4h27" stroke="#0000ff" stroke-width="2.8" fill="none"/>
<path d="M1386.6,675.4h15l-7.5,13z" fill="#fff" stroke="#0000ff" stroke-width="2.2" stroke-linejoin="miter"/>
<path d="M1401.0,729.2V916.8M1387.5,729.2h27M1387.5,916.8h27" stroke="#0000ff" stroke-width="2.8" fill="none"/>
<path d="M1393.5,789.6h15l-7.5,13z" fill="#fff" stroke="#0000ff" stroke-width="2.2" stroke-linejoin="miter"/>
<path d="M1414.4,692.8V952.3M1400.9,692.8h27M1400.9,952.3h27" stroke="#0000ff" stroke-width="2.8" fill="none"/>
<path d="M1406.9,778.2h15l-7.5,13z" fill="#fff" stroke="#0000ff" stroke-width="2.2" stroke-linejoin="miter"/>
<path d="M1421.0,571.8V830.5M1407.5,571.8h27M1407.5,830.5h27" stroke="#0000ff" stroke-width="2.8" fill="none"/>
<path d="M1413.5,632.9h15l-7.5,13z" fill="#fff" stroke="#0000ff" stroke-width="2.2" stroke-linejoin="miter"/>
<path d="M1427.4,742.9V983.1M1413.9,742.9h27M1413.9,983.1h27" stroke="#0000ff" stroke-width="2.8" fill="none"/>
<path d="M1419.9,817.5h15l-7.5,13z" fill="#fff" stroke="#0000ff" stroke-width="2.2" stroke-linejoin="miter"/>
<path d="M1433.8,654.8V844.4M1420.3,654.8h27M1420.3,844.4h27" stroke="#0000ff" stroke-width="2.8" fill="none"/>
<path d="M1426.3,712.5h15l-7.5,13z" fill="#fff" stroke="#0000ff" stroke-width="2.2" stroke-linejoin="miter"/>
<path d="M1440.0,697.9V962.6M1426.5,697.9h27M1426.5,962.6h27" stroke="#0000ff" stroke-width="2.8" fill="none"/>
<path d="M1432.5,774.7h15l-7.5,13z" fill="#fff" stroke="#0000ff" stroke-width="2.2" stroke-linejoin="miter"/>
<path d="M1446.1,677.4V946.7M1432.6,677.4h27M1432.6,946.7h27" stroke="#0000ff" stroke-width="2.8" fill="none"/>
<path d="M1438.6,747.9h15l-7.5,13z" fill="#fff" stroke="#0000ff" stroke-width="2.2" stroke-linejoin="miter"/>
<path d="M1452.1,679.0V908.4M1438.6,679.0h27M1438.6,908.4h27" stroke="#0000ff" stroke-width="2.8" fill="none"/>
<path d="M1444.6,751.2h15l-7.5,13z" fill="#fff" stroke="#0000ff" stroke-width="2.2" stroke-linejoin="miter"/>
<path d="M1458.1,575.5V785.2M1444.6,575.5h27M1444.6,785.2h27" stroke="#0000ff" stroke-width="2.8" fill="none"/>
<path d="M1450.6,644.6h15l-7.5,13z" fill="#fff" stroke="#0000ff" stroke-width="2.2" stroke-linejoin="miter"/>
<path d="M1463.9,620.3V905.6M1450.4,620.3h27M1450.4,905.6h27" stroke="#0000ff" stroke-width="2.8" fill="none"/>
<path d="M1456.4,690.4h15l-7.5,13z" fill="#fff" stroke="#0000ff" stroke-width="2.2" stroke-linejoin="miter"/>
<path d="M1469.6,754.0V1028.8M1456.1,754.0h27M1456.1,1028.8h27" stroke="#0000ff" stroke-width="2.8" fill="none"/>
<path d="M1462.1,823.8h15l-7.5,13z" fill="#fff" stroke="#0000ff" stroke-width="2.2" stroke-linejoin="miter"/>
<path d="M1480.8,601.6V848.7M1467.3,601.6h27M1467.3,848.7h27" stroke="#0000ff" stroke-width="2.8" fill="none"/>
<path d="M1473.3,668.0h15l-7.5,13z" fill="#fff" stroke="#0000ff" stroke-width="2.2" stroke-linejoin="miter"/>
<path d="M1486.3,752.7V1036.1M1472.8,752.7h27M1472.8,1036.1h27" stroke="#0000ff" stroke-width="2.8" fill="none"/>
<path d="M1478.8,811.4h15l-7.5,13z" fill="#fff" stroke="#0000ff" stroke-width="2.2" stroke-linejoin="miter"/>
<path d="M1491.7,664.0V922.9M1478.2,664.0h27M1478.2,922.9h27" stroke="#0000ff" stroke-width="2.8" fill="none"/>
<path d="M1484.2,721.5h15l-7.5,13z" fill="#fff" stroke="#0000ff" stroke-width="2.2" stroke-linejoin="miter"/>
<path d="M1497.1,661.4V852.8M1483.6,661.4h27M1483.6,852.8h27" stroke="#0000ff" stroke-width="2.8" fill="none"/>
<path d="M1489.6,715.1h15l-7.5,13z" fill="#fff" stroke="#0000ff" stroke-width="2.2" stroke-linejoin="miter"/>
<path d="M1502.3,654.7V866.8M1488.8,654.7h27M1488.8,866.8h27" stroke="#0000ff" stroke-width="2.8" fill="none"/>
<path d="M1494.8,721.8h15l-7.5,13z" fill="#fff" stroke="#0000ff" stroke-width="2.2" stroke-linejoin="miter"/>
<path d="M1507.5,662.8V915.3M1494.0,662.8h27M1494.0,915.3h27" stroke="#0000ff" stroke-width="2.8" fill="none"/>
<path d="M1500.0,709.7h15l-7.5,13z" fill="#fff" stroke="#0000ff" stroke-width="2.2" stroke-linejoin="miter"/>
<path d="M1512.6,553.4V809.5M1499.1,553.4h27M1499.1,809.5h27" stroke="#0000ff" stroke-width="2.8" fill="none"/>
<path d="M1505.1,639.2h15l-7.5,13z" fill="#fff" stroke="#0000ff" stroke-width="2.2" stroke-linejoin="miter"/>
<path d="M1517.6,649.9V826.4M1504.1,649.9h27M1504.1,826.4h27" stroke="#0000ff" stroke-width="2.8" fill="none"/>
<path d="M1510.1,695.9h15l-7.5,13z" fill="#fff" stroke="#0000ff" stroke-width="2.2" stroke-linejoin="miter"/>
<path d="M1522.6,683.4V921.7M1509.1,683.4h27M1509.1,921.7h27" stroke="#0000ff" stroke-width="2.8" fill="none"/>
<path d="M1515.1,732.0h15l-7.5,13z" fill="#fff" stroke="#0000ff" stroke-width="2.2" stroke-linejoin="miter"/>
<path d="M1527.5,564.2V789.5M1514.0,564.2h27M1514.0,789.5h27" stroke="#0000ff" stroke-width="2.8" fill="none"/>
<path d="M1520.0,630.4h15l-7.5,13z" fill="#fff" stroke="#0000ff" stroke-width="2.2" stroke-linejoin="miter"/>
<path d="M1532.3,637.9V888.1M1518.8,637.9h27M1518.8,888.1h27" stroke="#0000ff" stroke-width="2.8" fill="none"/>
<path d="M1524.8,723.9h15l-7.5,13z" fill="#fff" stroke="#0000ff" stroke-width="2.2" stroke-linejoin="miter"/>
<path d="M1537.1,565.8V783.6M1523.6,565.8h27M1523.6,783.6h27" stroke="#0000ff" stroke-width="2.8" fill="none"/>
<path d="M1529.6,646.3h15l-7.5,13z" fill="#fff" stroke="#0000ff" stroke-width="2.2" stroke-linejoin="miter"/>
<path d="M1541.8,737.5V1023.8M1528.3,737.5h27M1528.3,1023.8h27" stroke="#0000ff" stroke-width="2.8" fill="none"/>
<path d="M1534.3,820.1h15l-7.5,13z" fill="#fff" stroke="#0000ff" stroke-width="2.2" stroke-linejoin="miter"/>
<path d="M1546.5,715.0V907.4M1533.0,715.0h27M1533.0,907.4h27" stroke="#0000ff" stroke-width="2.8" fill="none"/>
<path d="M1539.0,778.8h15l-7.5,13z" fill="#fff" stroke="#0000ff" stroke-width="2.2" stroke-linejoin="miter"/>
<path d="M1551.1,751.7V942.5M1537.6,751.7h27M1537.6,942.5h27" stroke="#0000ff" stroke-width="2.8" fill="none"/>
<path d="M1543.6,806.7h15l-7.5,13z" fill="#fff" stroke="#0000ff" stroke-width="2.2" stroke-linejoin="miter"/>
<path d="M1555.6,768.4V1011.7M1542.1,768.4h27M1542.1,1011.7h27" stroke="#0000ff" stroke-width="2.8" fill="none"/>
<path d="M1548.1,846.4h15l-7.5,13z" fill="#fff" stroke="#0000ff" stroke-width="2.2" stroke-linejoin="miter"/>
<path d="M1560.1,570.5V853.4M1546.6,570.5h27M1546.6,853.4h27" stroke="#0000ff" stroke-width="2.8" fill="none"/>
<path d="M1552.6,645.1h15l-7.5,13z" fill="#fff" stroke="#0000ff" stroke-width="2.2" stroke-linejoin="miter"/>
<path d="M1564.6,673.4V945.0M1551.1,673.4h27M1551.1,945.0h27" stroke="#0000ff" stroke-width="2.8" fill="none"/>
<path d="M1557.1,729.5h15l-7.5,13z" fill="#fff" stroke="#0000ff" stroke-width="2.2" stroke-linejoin="miter"/>
<path d="M1568.9,621.9V816.4M1555.4,621.9h27M1555.4,816.4h27" stroke="#0000ff" stroke-width="2.8" fill="none"/>
<path d="M1561.4,673.2h15l-7.5,13z" fill="#fff" stroke="#0000ff" stroke-width="2.2" stroke-linejoin="miter"/>
<path d="M1573.3,612.3V843.6M1559.8,612.3h27M1559.8,843.6h27" stroke="#0000ff" stroke-width="2.8" fill="none"/>
<path d="M1565.8,675.6h15l-7.5,13z" fill="#fff" stroke="#0000ff" stroke-width="2.2" stroke-linejoin="miter"/>
<path d="M1577.6,735.7V936.5M1564.1,735.7h27M1564.1,936.5h27" stroke="#0000ff" stroke-width="2.8" fill="none"/>
<path d="M1570.1,793.6h15l-7.5,13z" fill="#fff" stroke="#0000ff" stroke-width="2.2" stroke-linejoin="miter"/>
<path d="M1581.8,580.3V806.8M1568.3,580.3h27M1568.3,806.8h27" stroke="#0000ff" stroke-width="2.8" fill="none"/>
<path d="M1574.3,669.3h15l-7.5,13z" fill="#fff" stroke="#0000ff" stroke-width="2.2" stroke-linejoin="miter"/>
<path d="M1586.0,620.5V895.7M1572.5,620.5h27M1572.5,895.7h27" stroke="#0000ff" stroke-width="2.8" fill="none"/>
<path d="M1578.5,692.7h15l-7.5,13z" fill="#fff" stroke="#0000ff" stroke-width="2.2" stroke-linejoin="miter"/>
<path d="M1590.1,775.5V1060.7M1576.6,775.5h27M1576.6,1060.7h27" stroke="#0000ff" stroke-width="2.8" fill="none"/>
<path d="M1582.6,850.8h15l-7.5,13z" fill="#fff" stroke="#0000ff" stroke-width="2.2" stroke-linejoin="miter"/>
<path d="M1594.2,781.1V1102.9M1580.7,781.1h27M1580.7,1102.9h27" stroke="#0000ff" stroke-width="2.8" fill="none"/>
<path d="M1586.7,870.3h15l-7.5,13z" fill="#fff" stroke="#0000ff" stroke-width="2.2" stroke-linejoin="miter"/>
<path d="M1602.2,613.8V809.5M1588.7,613.8h27M1588.7,809.5h27" stroke="#0000ff" stroke-width="2.8" fill="none"/>
<path d="M1594.7,675.7h15l-7.5,13z" fill="#fff" stroke="#0000ff" stroke-width="2.2" stroke-linejoin="miter"/>
<path d="M1606.2,632.4V926.2M1592.7,632.4h27M1592.7,926.2h27" stroke="#0000ff" stroke-width="2.8" fill="none"/>
<path d="M1598.7,703.2h15l-7.5,13z" fill="#fff" stroke="#0000ff" stroke-width="2.2" stroke-linejoin="miter"/>
<path d="M1610.1,780.2V1061.9M1596.6,780.2h27M1596.6,1061.9h27" stroke="#0000ff" stroke-width="2.8" fill="none"/>
<path d="M1602.6,860.7h15l-7.5,13z" fill="#fff" stroke="#0000ff" stroke-width="2.2" stroke-linejoin="miter"/>
<path d="M1614.0,722.3V1001.5M1600.5,722.3h27M1600.5,1001.5h27" stroke="#0000ff" stroke-width="2.8" fill="none"/>
<path d="M1606.5,811.8h15l-7.5,13z" fill="#fff" stroke="#0000ff" stroke-width="2.2" stroke-linejoin="miter"/>
<path d="M1621.6,637.6V853.2M1608.1,637.6h27M1608.1,853.2h27" stroke="#0000ff" stroke-width="2.8" fill="none"/>
<path d="M1614.1,712.4h15l-7.5,13z" fill="#fff" stroke="#0000ff" stroke-width="2.2" stroke-linejoin="miter"/>
<path d="M1625.4,774.5V980.1M1611.9,774.5h27M1611.9,980.1h27" stroke="#0000ff" stroke-width="2.8" fill="none"/>
<path d="M1617.9,848.6h15l-7.5,13z" fill="#fff" stroke="#0000ff" stroke-width="2.2" stroke-linejoin="miter"/>
<path d="M1629.1,728.2V990.5M1615.6,728.2h27M1615.6,990.5h27" stroke="#0000ff" stroke-width="2.8" fill="none"/>
<path d="M1621.6,814.9h15l-7.5,13z" fill="#fff" stroke="#0000ff" stroke-width="2.2" stroke-linejoin="miter"/>
<path d="M1632.8,777.6V1058.4M1619.3,777.6h27M1619.3,1058.4h27" stroke="#0000ff" stroke-width="2.8" fill="none"/>
<path d="M1625.3,872.2h15l-7.5,13z" fill="#fff" stroke="#0000ff" stroke-width="2.2" stroke-linejoin="miter"/>
<path d="M1636.4,617.5V874.5M1622.9,617.5h27M1622.9,874.5h27" stroke="#0000ff" stroke-width="2.8" fill="none"/>
<path d="M1628.9,712.1h15l-7.5,13z" fill="#fff" stroke="#0000ff" stroke-width="2.2" stroke-linejoin="miter"/>
<path d="M1640.1,785.3V1003.6M1626.6,785.3h27M1626.6,1003.6h27" stroke="#0000ff" stroke-width="2.8" fill="none"/>
<path d="M1632.6,852.4h15l-7.5,13z" fill="#fff" stroke="#0000ff" stroke-width="2.2" stroke-linejoin="miter"/>
<path d="M1643.6,672.0V939.0M1630.1,672.0h27M1630.1,939.0h27" stroke="#0000ff" stroke-width="2.8" fill="none"/>
<path d="M1636.1,762.8h15l-7.5,13z" fill="#fff" stroke="#0000ff" stroke-width="2.2" stroke-linejoin="miter"/>
<path d="M1647.2,673.6V950.9M1633.7,673.6h27M1633.7,950.9h27" stroke="#0000ff" stroke-width="2.8" fill="none"/>
<path d="M1639.7,747.9h15l-7.5,13z" fill="#fff" stroke="#0000ff" stroke-width="2.2" stroke-linejoin="miter"/>
<path d="M1650.7,672.7V989.4M1637.2,672.7h27M1637.2,989.4h27" stroke="#0000ff" stroke-width="2.8" fill="none"/>
<path d="M1643.2,753.2h15l-7.5,13z" fill="#fff" stroke="#0000ff" stroke-width="2.2" stroke-linejoin="miter"/>
<path d="M1654.2,678.2V929.9M1640.7,678.2h27M1640.7,929.9h27" stroke="#0000ff" stroke-width="2.8" fill="none"/>
<path d="M1646.7,770.2h15l-7.5,13z" fill="#fff" stroke="#0000ff" stroke-width="2.2" stroke-linejoin="miter"/>
<path d="M1657.6,785.4V1098.2M1644.1,785.4h27M1644.1,1098.2h27" stroke="#0000ff" stroke-width="2.8" fill="none"/>
<path d="M1650.1,864.7h15l-7.5,13z" fill="#fff" stroke="#0000ff" stroke-width="2.2" stroke-linejoin="miter"/>
<path d="M1664.4,716.7V969.7M1650.9,716.7h27M1650.9,969.7h27" stroke="#0000ff" stroke-width="2.8" fill="none"/>
<path d="M1656.9,812.7h15l-7.5,13z" fill="#fff" stroke="#0000ff" stroke-width="2.2" stroke-linejoin="miter"/>
<path d="M1667.8,823.5V1129.8M1654.3,823.5h27M1654.3,1129.8h27" stroke="#0000ff" stroke-width="2.8" fill="none"/>
<path d="M1660.3,883.9h15l-7.5,13z" fill="#fff" stroke="#0000ff" stroke-width="2.2" stroke-linejoin="miter"/>
<path d="M1671.1,778.9V1063.2M1657.6,778.9h27M1657.6,1063.2h27" stroke="#0000ff" stroke-width="2.8" fill="none"/>
<path d="M1663.6,844.0h15l-7.5,13z" fill="#fff" stroke="#0000ff" stroke-width="2.2" stroke-linejoin="miter"/>
<path d="M1674.4,798.3V1069.2M1660.9,798.3h27M1660.9,1069.2h27" stroke="#0000ff" stroke-width="2.8" fill="none"/>
<path d="M1666.9,894.7h15l-7.5,13z" fill="#fff" stroke="#0000ff" stroke-width="2.2" stroke-linejoin="miter"/>
<path d="M1677.6,736.7V1000.0M1664.1,736.7h27M1664.1,1000.0h27" stroke="#0000ff" stroke-width="2.8" fill="none"/>
<path d="M1670.1,798.2h15l-7.5,13z" fill="#fff" stroke="#0000ff" stroke-width="2.2" stroke-linejoin="miter"/>
<path d="M1680.9,860.9V1145.7M1667.4,860.9h27M1667.4,1145.7h27" stroke="#0000ff" stroke-width="2.8" fill="none"/>
<path d="M1673.4,924.6h15l-7.5,13z" fill="#fff" stroke="#0000ff" stroke-width="2.2" stroke-linejoin="miter"/>
<path d="M1684.1,825.1V1113.0M1670.6,825.1h27M1670.6,1113.0h27" stroke="#0000ff" stroke-width="2.8" fill="none"/>
<path d="M1676.6,899.3h15l-7.5,13z" fill="#fff" stroke="#0000ff" stroke-width="2.2" stroke-linejoin="miter"/>
<path d="M1687.2,716.2V962.4M1673.7,716.2h27M1673.7,962.4h27" stroke="#0000ff" stroke-width="2.8" fill="none"/>
<path d="M1679.7,816.3h15l-7.5,13z" fill="#fff" stroke="#0000ff" stroke-width="2.2" stroke-linejoin="miter"/>
<path d="M1693.5,710.3V976.5M1680.0,710.3h27M1680.0,976.5h27" stroke="#0000ff" stroke-width="2.8" fill="none"/>
<path d="M1686.0,788.8h15l-7.5,13z" fill="#fff" stroke="#0000ff" stroke-width="2.2" stroke-linejoin="miter"/>
<path d="M1696.6,866.6V1188.6M1683.1,866.6h27M1683.1,1188.6h27" stroke="#0000ff" stroke-width="2.4" fill="none"/>
<path d="M1689.1,923.9h15l-7.5,13z" fill="#fff" stroke="#0000ff" stroke-width="2.2" stroke-linejoin="miter"/>
<path d="M1699.7,769.8V1009.2M1686.2,769.8h27M1686.2,1009.2h27" stroke="#0000ff" stroke-width="2.4" fill="none"/>
<path d="M1692.2,833.1h15l-7.5,13z" fill="#fff" stroke="#0000ff" stroke-width="2.2" stroke-linejoin="miter"/>
<path d="M1702.7,910.6V1100.0M1689.2,910.6h27M1689.2,1100.0h27" stroke="#0000ff" stroke-width="2.4" fill="none"/>
<path d="M1695.2,981.0h15l-7.5,13z" fill="#fff" stroke="#0000ff" stroke-width="2.2" stroke-linejoin="miter"/>
<path d="M1705.8,791.6V1100.0M1692.3,791.6h27M1692.3,1100.0h27" stroke="#0000ff" stroke-width="2.4" fill="none"/>
<path d="M1698.3,871.0h15l-7.5,13z" fill="#fff" stroke="#0000ff" stroke-width="2.2" stroke-linejoin="miter"/>
<path d="M1708.8,743.1V1038.5M1695.3,743.1h27M1695.3,1038.5h27" stroke="#0000ff" stroke-width="2.4" fill="none"/>
<path d="M1701.3,814.2h15l-7.5,13z" fill="#fff" stroke="#0000ff" stroke-width="2.2" stroke-linejoin="miter"/>
<path d="M1711.7,911.5V1100.0M1698.2,911.5h27M1698.2,1100.0h27" stroke="#0000ff" stroke-width="2.4" fill="none"/>
<path d="M1704.2,988.6h15l-7.5,13z" fill="#fff" stroke="#0000ff" stroke-width="2.2" stroke-linejoin="miter"/>
<path d="M1714.7,778.5V1099.8M1701.2,778.5h27M1701.2,1099.8h27" stroke="#0000ff" stroke-width="2.4" fill="none"/>
<path d="M1707.2,895.8h15l-7.5,13z" fill="#fff" stroke="#0000ff" stroke-width="2.2" stroke-linejoin="miter"/>
<path d="M1717.6,757.9V1067.9M1704.1,757.9h27M1704.1,1067.9h27" stroke="#0000ff" stroke-width="2.4" fill="none"/>
<path d="M1710.1,841.1h15l-7.5,13z" fill="#fff" stroke="#0000ff" stroke-width="2.2" stroke-linejoin="miter"/>
<path d="M1720.5,874.0V1100.0M1707.0,874.0h27M1707.0,1100.0h27" stroke="#0000ff" stroke-width="2.4" fill="none"/>
<path d="M1713.0,950.0h15l-7.5,13z" fill="#fff" stroke="#0000ff" stroke-width="2.2" stroke-linejoin="miter"/>
<path d="M1723.4,889.4V1100.0M1709.9,889.4h27M1709.9,1100.0h27" stroke="#0000ff" stroke-width="2.4" fill="none"/>
<path d="M1715.9,1004.4h15l-7.5,13z" fill="#fff" stroke="#0000ff" stroke-width="2.2" stroke-linejoin="miter"/>
<path d="M1726.2,902.4V1100.0M1712.7,902.4h27M1712.7,1100.0h27" stroke="#0000ff" stroke-width="2.4" fill="none"/>
<path d="M1718.7,1006.3h15l-7.5,13z" fill="#fff" stroke="#0000ff" stroke-width="2.2" stroke-linejoin="miter"/>
<path d="M1729.1,938.4V1500.0M1715.6,938.4h27M1715.6,1500.0h27" stroke="#0000ff" stroke-width="2.9" fill="none"/>
<path d="M1721.6,1020.8h15l-7.5,13z" fill="#fff" stroke="#0000ff" stroke-width="2.2" stroke-linejoin="miter"/>
<path d="M1731.9,770.2V1500.0M1718.4,770.2h27M1718.4,1500.0h27" stroke="#0000ff" stroke-width="2.9" fill="none"/>
<path d="M1724.4,901.2h15l-7.5,13z" fill="#fff" stroke="#0000ff" stroke-width="2.2" stroke-linejoin="miter"/>
<path d="M1734.7,926.5V1500.0M1721.2,926.5h27M1721.2,1500.0h27" stroke="#0000ff" stroke-width="2.9" fill="none"/>
<path d="M1727.2,1057.5h15l-7.5,13z" fill="#fff" stroke="#0000ff" stroke-width="2.2" stroke-linejoin="miter"/>
<path d="M1737.5,890.8V1300.0M1724.0,890.8h27M1724.0,1300.0h27" stroke="#0000ff" stroke-width="2.9" fill="none"/>
<path d="M1730.0,989.9h15l-7.5,13z" fill="#fff" stroke="#0000ff" stroke-width="2.2" stroke-linejoin="miter"/>
<path d="M1740.2,950.0V1300.0M1726.7,950.0h27M1726.7,1300.0h27" stroke="#0000ff" stroke-width="2.9" fill="none"/>
<path d="M1732.7,1075.7h15l-7.5,13z" fill="#fff" stroke="#0000ff" stroke-width="2.2" stroke-linejoin="miter"/>
<path d="M1743.0,950.0V1300.0M1729.5,950.0h27M1729.5,1300.0h27" stroke="#0000ff" stroke-width="2.9" fill="none"/>
<path d="M1735.5,1212.6h15l-7.5,13z" fill="#fff" stroke="#0000ff" stroke-width="2.2" stroke-linejoin="miter"/>
<path d="M1745.7,831.9V1500.0M1732.2,831.9h27M1732.2,1500.0h27" stroke="#0000ff" stroke-width="2.9" fill="none"/>
<path d="M1738.2,967.8h15l-7.5,13z" fill="#fff" stroke="#0000ff" stroke-width="2.2" stroke-linejoin="miter"/>
<path d="M1748.4,950.0V1500.0M1734.9,950.0h27M1734.9,1500.0h27" stroke="#0000ff" stroke-width="2.9" fill="none"/>
<path d="M1740.9,1103.1h15l-7.5,13z" fill="#fff" stroke="#0000ff" stroke-width="2.2" stroke-linejoin="miter"/>
<path d="M1751.0,888.1V1500.0M1737.5,888.1h27M1737.5,1500.0h27" stroke="#0000ff" stroke-width="2.9" fill="none"/>
<path d="M1743.5,1010.9h15l-7.5,13z" fill="#fff" stroke="#0000ff" stroke-width="2.2" stroke-linejoin="miter"/>
<path d="M1753.7,950.0V1500.0M1740.2,950.0h27M1740.2,1500.0h27" stroke="#0000ff" stroke-width="2.9" fill="none"/>
<path d="M1746.2,1091.8h15l-7.5,13z" fill="#fff" stroke="#0000ff" stroke-width="2.2" stroke-linejoin="miter"/>
<path d="M1325.2,877.7V1195.5M1311.7,877.7h27M1311.7,1195.5h27" stroke="#0000ff" stroke-width="2.8" fill="none"/>
<path d="M1317.7,1005.3h15l-7.5,13z" fill="#fff" stroke="#0000ff" stroke-width="2.2" stroke-linejoin="miter"/>
<path d="M1372.5,885.7V1148.4M1359.0,885.7h27M1359.0,1148.4h27" stroke="#0000ff" stroke-width="2.8" fill="none"/>
<path d="M1365.0,993.5h15l-7.5,13z" fill="#fff" stroke="#0000ff" stroke-width="2.2" stroke-linejoin="miter"/>
<path d="M1407.8,879.1V1106.6M1394.3,879.1h27M1394.3,1106.6h27" stroke="#0000ff" stroke-width="2.8" fill="none"/>
<path d="M1400.3,973.5h15l-7.5,13z" fill="#fff" stroke="#0000ff" stroke-width="2.2" stroke-linejoin="miter"/>
<path d="M1475.3,822.3V992.0M1461.8,822.3h27M1461.8,992.0h27" stroke="#0000ff" stroke-width="2.8" fill="none"/>
<path d="M1467.8,893.5h15l-7.5,13z" fill="#fff" stroke="#0000ff" stroke-width="2.2" stroke-linejoin="miter"/>
<path d="M1598.2,950.8V1309.8M1584.7,950.8h27M1584.7,1309.8h27" stroke="#0000ff" stroke-width="2.8" fill="none"/>
<path d="M1590.7,1084.3h15l-7.5,13z" fill="#fff" stroke="#0000ff" stroke-width="2.2" stroke-linejoin="miter"/>
<path d="M1617.8,960.0V1324.7M1604.3,960.0h27M1604.3,1324.7h27" stroke="#0000ff" stroke-width="2.8" fill="none"/>
<path d="M1610.3,1093.5h15l-7.5,13z" fill="#fff" stroke="#0000ff" stroke-width="2.2" stroke-linejoin="miter"/>
<path d="M1661.0,949.6V1175.8M1647.5,949.6h27M1647.5,1175.8h27" stroke="#0000ff" stroke-width="2.8" fill="none"/>
<path d="M1653.5,1043.5h15l-7.5,13z" fill="#fff" stroke="#0000ff" stroke-width="2.2" stroke-linejoin="miter"/>
<path d="M1690.4,1032.8V1303.3M1676.9,1032.8h27M1676.9,1303.3h27" stroke="#0000ff" stroke-width="2.8" fill="none"/>
<path d="M1682.9,1143.5h15l-7.5,13z" fill="#fff" stroke="#0000ff" stroke-width="2.2" stroke-linejoin="miter"/>
<path d="M330.9,397.9V478.3M317.4,397.9h27M317.4,478.3h27" stroke="#ff00ff" stroke-width="2.8" fill="none"/>
<path d="M322.9,436.7l8,-8l8,8l-8,8z" fill="#fff" stroke="#ff00ff" stroke-width="2.2"/>
<path d="M437.4,420.4V566.2M423.9,420.4h27M423.9,566.2h27" stroke="#ff00ff" stroke-width="2.8" fill="none"/>
<path d="M429.4,488.6l8,-8l8,8l-8,8z" fill="#fff" stroke="#ff00ff" stroke-width="2.2"/>
<path d="M520.0,489.3V642.0M506.5,489.3h27M506.5,642.0h27" stroke="#ff00ff" stroke-width="2.8" fill="none"/>
<path d="M512.0,559.9l8,-8l8,8l-8,8z" fill="#fff" stroke="#ff00ff" stroke-width="2.2"/>
<path d="M587.5,608.8V793.8M574.0,608.8h27M574.0,793.8h27" stroke="#ff00ff" stroke-width="2.8" fill="none"/>
<path d="M579.5,690.7l8,-8l8,8l-8,8z" fill="#fff" stroke="#ff00ff" stroke-width="2.2"/>
<path d="M644.6,962.2V1421.9M631.1,962.2h27M631.1,1421.9h27" stroke="#ff00ff" stroke-width="2.8" fill="none"/>
<path d="M636.6,1141.0l8,-8l8,8l-8,8z" fill="#fff" stroke="#ff00ff" stroke-width="2.2"/>
<path d="M694.0,735.2V966.1M680.5,735.2h27M680.5,966.1h27" stroke="#ff00ff" stroke-width="2.8" fill="none"/>
<path d="M686.0,837.8l8,-8l8,8l-8,8z" fill="#fff" stroke="#ff00ff" stroke-width="2.2"/>
<path d="M737.6,833.5V1125.8M724.1,833.5h27M724.1,1125.8h27" stroke="#ff00ff" stroke-width="2.8" fill="none"/>
<path d="M729.6,958.3l8,-8l8,8l-8,8z" fill="#fff" stroke="#ff00ff" stroke-width="2.2"/>
<path d="M776.6,732.7V952.9M763.1,732.7h27M763.1,952.9h27" stroke="#ff00ff" stroke-width="2.8" fill="none"/>
<path d="M768.6,830.7l8,-8l8,8l-8,8z" fill="#fff" stroke="#ff00ff" stroke-width="2.2"/>
<path d="M811.9,1020.0V1500.0M798.4,1020.0h27M798.4,1500.0h27" stroke="#ff00ff" stroke-width="2.8" fill="none"/>
<path d="M803.9,1208.5l8,-8l8,8l-8,8z" fill="#fff" stroke="#ff00ff" stroke-width="2.2"/>
<path d="M844.1,745.9V972.0M830.6,745.9h27M830.6,972.0h27" stroke="#ff00ff" stroke-width="2.8" fill="none"/>
<path d="M836.1,846.3l8,-8l8,8l-8,8z" fill="#fff" stroke="#ff00ff" stroke-width="2.2"/>
<path d="M873.7,763.7V997.4M860.2,763.7h27M860.2,997.4h27" stroke="#ff00ff" stroke-width="2.8" fill="none"/>
<path d="M865.7,867.0l8,-8l8,8l-8,8z" fill="#fff" stroke="#ff00ff" stroke-width="2.2"/>
<path d="M901.2,834.6V1114.0M887.7,834.6h27M887.7,1114.0h27" stroke="#ff00ff" stroke-width="2.8" fill="none"/>
<path d="M893.2,955.5l8,-8l8,8l-8,8z" fill="#fff" stroke="#ff00ff" stroke-width="2.2"/>
<path d="M926.7,701.4V898.2M913.2,701.4h27M913.2,898.2h27" stroke="#ff00ff" stroke-width="2.8" fill="none"/>
<path d="M918.7,790.2l8,-8l8,8l-8,8z" fill="#fff" stroke="#ff00ff" stroke-width="2.2"/>
<path d="M950.6,727.0V937.4M937.1,727.0h27M937.1,937.4h27" stroke="#ff00ff" stroke-width="2.8" fill="none"/>
<path d="M942.6,821.0l8,-8l8,8l-8,8z" fill="#fff" stroke="#ff00ff" stroke-width="2.2"/>
<path d="M973.1,733.8V949.0M959.6,733.8h27M959.6,949.0h27" stroke="#ff00ff" stroke-width="2.8" fill="none"/>
<path d="M965.1,829.5l8,-8l8,8l-8,8z" fill="#fff" stroke="#ff00ff" stroke-width="2.2"/>
<path d="M994.2,621.0V782.7M980.7,621.0h27M980.7,782.7h27" stroke="#ff00ff" stroke-width="2.8" fill="none"/>
<path d="M986.2,694.5l8,-8l8,8l-8,8z" fill="#fff" stroke="#ff00ff" stroke-width="2.2"/>
<path d="M1014.2,600.6V754.0M1000.7,600.6h27M1000.7,754.0h27" stroke="#ff00ff" stroke-width="2.8" fill="none"/>
<path d="M1006.2,672.0l8,-8l8,8l-8,8z" fill="#fff" stroke="#ff00ff" stroke-width="2.2"/>
<path d="M1033.2,551.0V687.7M1019.7,551.0h27M1019.7,687.7h27" stroke="#ff00ff" stroke-width="2.8" fill="none"/>
<path d="M1025.2,615.0l8,-8l8,8l-8,8z" fill="#fff" stroke="#ff00ff" stroke-width="2.2"/>
<path d="M1051.3,688.7V880.7M1037.8,688.7h27M1037.8,880.7h27" stroke="#ff00ff" stroke-width="2.8" fill="none"/>
<path d="M1043.3,781.0l8,-8l8,8l-8,8z" fill="#fff" stroke="#ff00ff" stroke-width="2.2"/>
<path d="M1068.5,729.7V938.8M1055.0,729.7h27M1055.0,938.8h27" stroke="#ff00ff" stroke-width="2.8" fill="none"/>
<path d="M1060.5,823.4l8,-8l8,8l-8,8z" fill="#fff" stroke="#ff00ff" stroke-width="2.2"/>
<path d="M1085.0,732.0V901.0M1071.5,732.0h27M1071.5,901.0h27" stroke="#ff00ff" stroke-width="2.8" fill="none"/>
<path d="M1077.0,791.9l8,-8l8,8l-8,8z" fill="#fff" stroke="#ff00ff" stroke-width="2.2"/>
<path d="M1100.7,584.0V730.0M1087.2,584.0h27M1087.2,730.0h27" stroke="#ff00ff" stroke-width="2.8" fill="none"/>
<path d="M1092.7,652.4l8,-8l8,8l-8,8z" fill="#fff" stroke="#ff00ff" stroke-width="2.2"/>
<path d="M1115.9,655.0V829.0M1102.4,655.0h27M1102.4,829.0h27" stroke="#ff00ff" stroke-width="2.8" fill="none"/>
<path d="M1107.9,734.3l8,-8l8,8l-8,8z" fill="#fff" stroke="#ff00ff" stroke-width="2.2"/>
<path d="M1130.4,663.6V841.1M1116.9,663.6h27M1116.9,841.1h27" stroke="#ff00ff" stroke-width="2.8" fill="none"/>
<path d="M1122.4,744.5l8,-8l8,8l-8,8z" fill="#fff" stroke="#ff00ff" stroke-width="2.2"/>
<path d="M1144.4,517.8V644.8M1130.9,517.8h27M1130.9,644.8h27" stroke="#ff00ff" stroke-width="2.8" fill="none"/>
<path d="M1136.4,576.6l8,-8l8,8l-8,8z" fill="#fff" stroke="#ff00ff" stroke-width="2.2"/>
<path d="M1157.8,529.4V660.2M1144.3,529.4h27M1144.3,660.2h27" stroke="#ff00ff" stroke-width="2.8" fill="none"/>
<path d="M1149.8,589.2l8,-8l8,8l-8,8z" fill="#fff" stroke="#ff00ff" stroke-width="2.2"/>
<path d="M1170.8,715.9V916.0M1157.3,715.9h27M1157.3,916.0h27" stroke="#ff00ff" stroke-width="2.8" fill="none"/>
<path d="M1162.8,807.0l8,-8l8,8l-8,8z" fill="#fff" stroke="#ff00ff" stroke-width="2.2"/>
<path d="M1183.4,494.0V614.8M1169.9,494.0h27M1169.9,614.8h27" stroke="#ff00ff" stroke-width="2.8" fill="none"/>
<path d="M1175.4,551.0l8,-8l8,8l-8,8z" fill="#fff" stroke="#ff00ff" stroke-width="2.2"/>
<path d="M1195.5,545.8V675.6M1182.0,545.8h27M1182.0,675.6h27" stroke="#ff00ff" stroke-width="2.8" fill="none"/>
<path d="M1187.5,609.0l8,-8l8,8l-8,8z" fill="#fff" stroke="#ff00ff" stroke-width="2.2"/>
<path d="M1207.3,479.3V590.0M1193.8,479.3h27M1193.8,590.0h27" stroke="#ff00ff" stroke-width="2.8" fill="none"/>
<path d="M1199.3,533.9l8,-8l8,8l-8,8z" fill="#fff" stroke="#ff00ff" stroke-width="2.2"/>
<path d="M1218.6,576.6V742.0M1205.1,576.6h27M1205.1,742.0h27" stroke="#ff00ff" stroke-width="2.8" fill="none"/>
<path d="M1210.6,661.2l8,-8l8,8l-8,8z" fill="#fff" stroke="#ff00ff" stroke-width="2.2"/>
<path d="M1229.7,576.6V723.4M1216.2,576.6h27M1216.2,723.4h27" stroke="#ff00ff" stroke-width="2.8" fill="none"/>
<path d="M1221.7,644.8l8,-8l8,8l-8,8z" fill="#fff" stroke="#ff00ff" stroke-width="2.2"/>
<path d="M1240.4,570.8V684.4M1226.9,570.8h27M1226.9,684.4h27" stroke="#ff00ff" stroke-width="2.8" fill="none"/>
<path d="M1232.4,624.4l8,-8l8,8l-8,8z" fill="#fff" stroke="#ff00ff" stroke-width="2.2"/>
<path d="M1250.9,571.4V714.8M1237.4,571.4h27M1237.4,714.8h27" stroke="#ff00ff" stroke-width="2.8" fill="none"/>
<path d="M1242.9,638.0l8,-8l8,8l-8,8z" fill="#fff" stroke="#ff00ff" stroke-width="2.2"/>
<path d="M1261.0,713.0V880.4M1247.5,713.0h27M1247.5,880.4h27" stroke="#ff00ff" stroke-width="2.8" fill="none"/>
<path d="M1253.0,776.3l8,-8l8,8l-8,8z" fill="#fff" stroke="#ff00ff" stroke-width="2.2"/>
<path d="M1270.9,641.4V808.7M1257.4,641.4h27M1257.4,808.7h27" stroke="#ff00ff" stroke-width="2.8" fill="none"/>
<path d="M1262.9,716.5l8,-8l8,8l-8,8z" fill="#fff" stroke="#ff00ff" stroke-width="2.2"/>
<path d="M1280.5,634.6V906.8M1267.0,634.6h27M1267.0,906.8h27" stroke="#ff00ff" stroke-width="2.8" fill="none"/>
<path d="M1272.5,752.4l8,-8l8,8l-8,8z" fill="#fff" stroke="#ff00ff" stroke-width="2.2"/>
<path d="M1289.9,764.2V991.3M1276.4,764.2h27M1276.4,991.3h27" stroke="#ff00ff" stroke-width="2.8" fill="none"/>
<path d="M1281.9,865.0l8,-8l8,8l-8,8z" fill="#fff" stroke="#ff00ff" stroke-width="2.2"/>
<path d="M1299.0,685.4V859.6M1285.5,685.4h27M1285.5,859.6h27" stroke="#ff00ff" stroke-width="2.8" fill="none"/>
<path d="M1291.0,754.6l8,-8l8,8l-8,8z" fill="#fff" stroke="#ff00ff" stroke-width="2.2"/>
<path d="M1316.6,612.6V840.9M1303.1,612.6h27M1303.1,840.9h27" stroke="#ff00ff" stroke-width="2.8" fill="none"/>
<path d="M1308.6,678.5l8,-8l8,8l-8,8z" fill="#fff" stroke="#ff00ff" stroke-width="2.2"/>
<path d="M1325.2,597.4V838.3M1311.7,597.4h27M1311.7,838.3h27" stroke="#ff00ff" stroke-width="2.8" fill="none"/>
<path d="M1317.2,681.7l8,-8l8,8l-8,8z" fill="#fff" stroke="#ff00ff" stroke-width="2.2"/>
<path d="M1333.5,681.7V874.5M1320.0,681.7h27M1320.0,874.5h27" stroke="#ff00ff" stroke-width="2.8" fill="none"/>
<path d="M1325.5,734.7l8,-8l8,8l-8,8z" fill="#fff" stroke="#ff00ff" stroke-width="2.2"/>
<path d="M1341.6,627.2V818.2M1328.1,627.2h27M1328.1,818.2h27" stroke="#ff00ff" stroke-width="2.8" fill="none"/>
<path d="M1333.6,710.5l8,-8l8,8l-8,8z" fill="#fff" stroke="#ff00ff" stroke-width="2.2"/>
<path d="M1349.6,638.0V885.7M1336.1,638.0h27M1336.1,885.7h27" stroke="#ff00ff" stroke-width="2.8" fill="none"/>
<path d="M1341.6,728.3l8,-8l8,8l-8,8z" fill="#fff" stroke="#ff00ff" stroke-width="2.2"/>
<path d="M1357.4,806.6V985.7M1343.9,806.6h27M1343.9,985.7h27" stroke="#ff00ff" stroke-width="2.8" fill="none"/>
<path d="M1349.4,886.1l8,-8l8,8l-8,8z" fill="#fff" stroke="#ff00ff" stroke-width="2.2"/>
<path d="M1365.0,718.3V941.4M1351.5,718.3h27M1351.5,941.4h27" stroke="#ff00ff" stroke-width="2.8" fill="none"/>
<path d="M1357.0,784.2l8,-8l8,8l-8,8z" fill="#fff" stroke="#ff00ff" stroke-width="2.2"/>
<path d="M1372.5,624.5V811.5M1359.0,624.5h27M1359.0,811.5h27" stroke="#ff00ff" stroke-width="2.8" fill="none"/>
<path d="M1364.5,698.0l8,-8l8,8l-8,8z" fill="#fff" stroke="#ff00ff" stroke-width="2.2"/>
<path d="M1379.8,681.9V850.8M1366.3,681.9h27M1366.3,850.8h27" stroke="#ff00ff" stroke-width="2.8" fill="none"/>
<path d="M1371.8,739.5l8,-8l8,8l-8,8z" fill="#fff" stroke="#ff00ff" stroke-width="2.2"/>
<path d="M1387.0,661.5V931.3M1373.5,661.5h27M1373.5,931.3h27" stroke="#ff00ff" stroke-width="2.8" fill="none"/>
<path d="M1379.0,755.8l8,-8l8,8l-8,8z" fill="#fff" stroke="#ff00ff" stroke-width="2.2"/>
<path d="M1394.1,533.0V814.4M1380.6,533.0h27M1380.6,814.4h27" stroke="#ff00ff" stroke-width="2.8" fill="none"/>
<path d="M1386.1,632.1l8,-8l8,8l-8,8z" fill="#fff" stroke="#ff00ff" stroke-width="2.2"/>
<path d="M1401.0,677.3V925.6M1387.5,677.3h27M1387.5,925.6h27" stroke="#ff00ff" stroke-width="2.8" fill="none"/>
<path d="M1393.0,776.0l8,-8l8,8l-8,8z" fill="#fff" stroke="#ff00ff" stroke-width="2.2"/>
<path d="M1407.8,673.4V841.0M1394.3,673.4h27M1394.3,841.0h27" stroke="#ff00ff" stroke-width="2.8" fill="none"/>
<path d="M1399.8,739.6l8,-8l8,8l-8,8z" fill="#fff" stroke="#ff00ff" stroke-width="2.2"/>
<path d="M1414.4,743.5V973.4M1400.9,743.5h27M1400.9,973.4h27" stroke="#ff00ff" stroke-width="2.8" fill="none"/>
<path d="M1406.4,815.2l8,-8l8,8l-8,8z" fill="#fff" stroke="#ff00ff" stroke-width="2.2"/>
<path d="M1421.0,606.3V838.0M1407.5,606.3h27M1407.5,838.0h27" stroke="#ff00ff" stroke-width="2.8" fill="none"/>
<path d="M1413.0,676.1l8,-8l8,8l-8,8z" fill="#fff" stroke="#ff00ff" stroke-width="2.2"/>
<path d="M1427.4,757.8V979.5M1413.9,757.8h27M1413.9,979.5h27" stroke="#ff00ff" stroke-width="2.8" fill="none"/>
<path d="M1419.4,828.4l8,-8l8,8l-8,8z" fill="#fff" stroke="#ff00ff" stroke-width="2.2"/>
<path d="M1433.8,648.7V870.7M1420.3,648.7h27M1420.3,870.7h27" stroke="#ff00ff" stroke-width="2.8" fill="none"/>
<path d="M1425.8,741.0l8,-8l8,8l-8,8z" fill="#fff" stroke="#ff00ff" stroke-width="2.2"/>
<path d="M1440.0,649.2V914.4M1426.5,649.2h27M1426.5,914.4h27" stroke="#ff00ff" stroke-width="2.8" fill="none"/>
<path d="M1432.0,746.7l8,-8l8,8l-8,8z" fill="#fff" stroke="#ff00ff" stroke-width="2.2"/>
<path d="M1446.1,646.1V918.8M1432.6,646.1h27M1432.6,918.8h27" stroke="#ff00ff" stroke-width="2.8" fill="none"/>
<path d="M1438.1,732.2l8,-8l8,8l-8,8z" fill="#fff" stroke="#ff00ff" stroke-width="2.2"/>
<path d="M1452.1,872.9V1058.1M1438.6,872.9h27M1438.6,1058.1h27" stroke="#ff00ff" stroke-width="2.8" fill="none"/>
<path d="M1444.1,927.8l8,-8l8,8l-8,8z" fill="#fff" stroke="#ff00ff" stroke-width="2.2"/>
<path d="M1458.1,658.9V916.3M1444.6,658.9h27M1444.6,916.3h27" stroke="#ff00ff" stroke-width="2.8" fill="none"/>
<path d="M1450.1,728.4l8,-8l8,8l-8,8z" fill="#fff" stroke="#ff00ff" stroke-width="2.2"/>
<path d="M1463.9,645.8V906.2M1450.4,645.8h27M1450.4,906.2h27" stroke="#ff00ff" stroke-width="2.8" fill="none"/>
<path d="M1455.9,720.2l8,-8l8,8l-8,8z" fill="#fff" stroke="#ff00ff" stroke-width="2.2"/>
<path d="M1475.3,652.3V909.5M1461.8,652.3h27M1461.8,909.5h27" stroke="#ff00ff" stroke-width="2.8" fill="none"/>
<path d="M1467.3,750.3l8,-8l8,8l-8,8z" fill="#fff" stroke="#ff00ff" stroke-width="2.2"/>
<path d="M1480.8,839.4V1068.9M1467.3,839.4h27M1467.3,1068.9h27" stroke="#ff00ff" stroke-width="2.8" fill="none"/>
<path d="M1472.8,922.3l8,-8l8,8l-8,8z" fill="#fff" stroke="#ff00ff" stroke-width="2.2"/>
<path d="M1486.3,853.3V1105.1M1472.8,853.3h27M1472.8,1105.1h27" stroke="#ff00ff" stroke-width="2.8" fill="none"/>
<path d="M1478.3,933.3l8,-8l8,8l-8,8z" fill="#fff" stroke="#ff00ff" stroke-width="2.2"/>
<path d="M1502.3,766.3V954.0M1488.8,766.3h27M1488.8,954.0h27" stroke="#ff00ff" stroke-width="2.8" fill="none"/>
<path d="M1494.3,843.2l8,-8l8,8l-8,8z" fill="#fff" stroke="#ff00ff" stroke-width="2.2"/>
<path d="M1507.5,675.0V891.6M1494.0,675.0h27M1494.0,891.6h27" stroke="#ff00ff" stroke-width="2.8" fill="none"/>
<path d="M1499.5,731.3l8,-8l8,8l-8,8z" fill="#fff" stroke="#ff00ff" stroke-width="2.2"/>
<path d="M1517.6,814.8V1028.7M1504.1,814.8h27M1504.1,1028.7h27" stroke="#ff00ff" stroke-width="2.8" fill="none"/>
<path d="M1509.6,879.0l8,-8l8,8l-8,8z" fill="#fff" stroke="#ff00ff" stroke-width="2.2"/>
<path d="M1522.6,618.1V833.5M1509.1,618.1h27M1509.1,833.5h27" stroke="#ff00ff" stroke-width="2.8" fill="none"/>
<path d="M1514.6,699.1l8,-8l8,8l-8,8z" fill="#fff" stroke="#ff00ff" stroke-width="2.2"/>
<path d="M1527.5,825.5V1048.8M1514.0,825.5h27M1514.0,1048.8h27" stroke="#ff00ff" stroke-width="2.8" fill="none"/>
<path d="M1519.5,921.4l8,-8l8,8l-8,8z" fill="#fff" stroke="#ff00ff" stroke-width="2.2"/>
<path d="M1546.5,718.5V933.6M1533.0,718.5h27M1533.0,933.6h27" stroke="#ff00ff" stroke-width="2.8" fill="none"/>
<path d="M1538.5,793.1l8,-8l8,8l-8,8z" fill="#fff" stroke="#ff00ff" stroke-width="2.2"/>
<path d="M1551.1,594.4V801.5M1537.6,594.4h27M1537.6,801.5h27" stroke="#ff00ff" stroke-width="2.8" fill="none"/>
<path d="M1543.1,659.3l8,-8l8,8l-8,8z" fill="#fff" stroke="#ff00ff" stroke-width="2.2"/>
<path d="M1555.6,829.1V1089.6M1542.1,829.1h27M1542.1,1089.6h27" stroke="#ff00ff" stroke-width="2.8" fill="none"/>
<path d="M1547.6,921.4l8,-8l8,8l-8,8z" fill="#fff" stroke="#ff00ff" stroke-width="2.2"/>
<path d="M1560.1,835.5V1051.1M1546.6,835.5h27M1546.6,1051.1h27" stroke="#ff00ff" stroke-width="2.8" fill="none"/>
<path d="M1552.1,921.5l8,-8l8,8l-8,8z" fill="#fff" stroke="#ff00ff" stroke-width="2.2"/>
<path d="M1564.6,714.8V950.5M1551.1,714.8h27M1551.1,950.5h27" stroke="#ff00ff" stroke-width="2.8" fill="none"/>
<path d="M1556.6,815.1l8,-8l8,8l-8,8z" fill="#fff" stroke="#ff00ff" stroke-width="2.2"/>
<path d="M1568.9,678.7V871.6M1555.4,678.7h27M1555.4,871.6h27" stroke="#ff00ff" stroke-width="2.8" fill="none"/>
<path d="M1560.9,737.4l8,-8l8,8l-8,8z" fill="#fff" stroke="#ff00ff" stroke-width="2.2"/>
<path d="M1577.6,786.6V1067.6M1564.1,786.6h27M1564.1,1067.6h27" stroke="#ff00ff" stroke-width="2.8" fill="none"/>
<path d="M1569.6,889.0l8,-8l8,8l-8,8z" fill="#fff" stroke="#ff00ff" stroke-width="2.2"/>
<path d="M1581.8,755.9V999.6M1568.3,755.9h27M1568.3,999.6h27" stroke="#ff00ff" stroke-width="2.8" fill="none"/>
<path d="M1573.8,814.5l8,-8l8,8l-8,8z" fill="#fff" stroke="#ff00ff" stroke-width="2.2"/>
<path d="M1586.0,573.8V813.8M1572.5,573.8h27M1572.5,813.8h27" stroke="#ff00ff" stroke-width="2.8" fill="none"/>
<path d="M1578.0,645.2l8,-8l8,8l-8,8z" fill="#fff" stroke="#ff00ff" stroke-width="2.2"/>
<path d="M1590.1,573.9V770.7M1576.6,573.9h27M1576.6,770.7h27" stroke="#ff00ff" stroke-width="2.8" fill="none"/>
<path d="M1582.1,647.0l8,-8l8,8l-8,8z" fill="#fff" stroke="#ff00ff" stroke-width="2.2"/>
<path d="M1594.2,751.8V981.9M1580.7,751.8h27M1580.7,981.9h27" stroke="#ff00ff" stroke-width="2.8" fill="none"/>
<path d="M1586.2,808.2l8,-8l8,8l-8,8z" fill="#fff" stroke="#ff00ff" stroke-width="2.2"/>
<path d="M1598.2,710.3V947.5M1584.7,710.3h27M1584.7,947.5h27" stroke="#ff00ff" stroke-width="2.8" fill="none"/>
<path d="M1590.2,777.7l8,-8l8,8l-8,8z" fill="#fff" stroke="#ff00ff" stroke-width="2.2"/>
<path d="M1602.2,686.7V937.3M1588.7,686.7h27M1588.7,937.3h27" stroke="#ff00ff" stroke-width="2.8" fill="none"/>
<path d="M1594.2,779.6l8,-8l8,8l-8,8z" fill="#fff" stroke="#ff00ff" stroke-width="2.2"/>
<path d="M1606.2,646.2V908.3M1592.7,646.2h27M1592.7,908.3h27" stroke="#ff00ff" stroke-width="2.8" fill="none"/>
<path d="M1598.2,736.9l8,-8l8,8l-8,8z" fill="#fff" stroke="#ff00ff" stroke-width="2.2"/>
<path d="M1610.1,861.5V1086.2M1596.6,861.5h27M1596.6,1086.2h27" stroke="#ff00ff" stroke-width="2.8" fill="none"/>
<path d="M1602.1,921.4l8,-8l8,8l-8,8z" fill="#fff" stroke="#ff00ff" stroke-width="2.2"/>
<path d="M1614.0,804.7V1042.7M1600.5,804.7h27M1600.5,1042.7h27" stroke="#ff00ff" stroke-width="2.8" fill="none"/>
<path d="M1606.0,880.2l8,-8l8,8l-8,8z" fill="#fff" stroke="#ff00ff" stroke-width="2.2"/>
<path d="M1625.4,633.8V875.8M1611.9,633.8h27M1611.9,875.8h27" stroke="#ff00ff" stroke-width="2.8" fill="none"/>
<path d="M1617.4,690.6l8,-8l8,8l-8,8z" fill="#fff" stroke="#ff00ff" stroke-width="2.2"/>
<path d="M1629.1,776.9V986.0M1615.6,776.9h27M1615.6,986.0h27" stroke="#ff00ff" stroke-width="2.8" fill="none"/>
<path d="M1621.1,868.0l8,-8l8,8l-8,8z" fill="#fff" stroke="#ff00ff" stroke-width="2.2"/>
<path d="M1632.8,813.3V1037.9M1619.3,813.3h27M1619.3,1037.9h27" stroke="#ff00ff" stroke-width="2.8" fill="none"/>
<path d="M1624.8,894.7l8,-8l8,8l-8,8z" fill="#fff" stroke="#ff00ff" stroke-width="2.2"/>
<path d="M1636.4,615.6V862.9M1622.9,615.6h27M1622.9,862.9h27" stroke="#ff00ff" stroke-width="2.8" fill="none"/>
<path d="M1628.4,697.9l8,-8l8,8l-8,8z" fill="#fff" stroke="#ff00ff" stroke-width="2.2"/>
<path d="M1640.1,820.7V1066.8M1626.6,820.7h27M1626.6,1066.8h27" stroke="#ff00ff" stroke-width="2.8" fill="none"/>
<path d="M1632.1,891.2l8,-8l8,8l-8,8z" fill="#fff" stroke="#ff00ff" stroke-width="2.2"/>
<path d="M1643.6,644.5V875.6M1630.1,644.5h27M1630.1,875.6h27" stroke="#ff00ff" stroke-width="2.8" fill="none"/>
<path d="M1635.6,724.9l8,-8l8,8l-8,8z" fill="#fff" stroke="#ff00ff" stroke-width="2.2"/>
<path d="M1647.2,768.9V964.2M1633.7,768.9h27M1633.7,964.2h27" stroke="#ff00ff" stroke-width="2.8" fill="none"/>
<path d="M1639.2,848.2l8,-8l8,8l-8,8z" fill="#fff" stroke="#ff00ff" stroke-width="2.2"/>
<path d="M1650.7,563.0V789.2M1637.2,563.0h27M1637.2,789.2h27" stroke="#ff00ff" stroke-width="2.8" fill="none"/>
<path d="M1642.7,621.5l8,-8l8,8l-8,8z" fill="#fff" stroke="#ff00ff" stroke-width="2.2"/>
<path d="M1654.2,633.5V897.0M1640.7,633.5h27M1640.7,897.0h27" stroke="#ff00ff" stroke-width="2.8" fill="none"/>
<path d="M1646.2,718.0l8,-8l8,8l-8,8z" fill="#fff" stroke="#ff00ff" stroke-width="2.2"/>
<path d="M1657.6,582.8V828.6M1644.1,582.8h27M1644.1,828.6h27" stroke="#ff00ff" stroke-width="2.8" fill="none"/>
<path d="M1649.6,669.6l8,-8l8,8l-8,8z" fill="#fff" stroke="#ff00ff" stroke-width="2.2"/>
<path d="M1661.0,638.4V837.2M1647.5,638.4h27M1647.5,837.2h27" stroke="#ff00ff" stroke-width="2.8" fill="none"/>
<path d="M1653.0,737.1l8,-8l8,8l-8,8z" fill="#fff" stroke="#ff00ff" stroke-width="2.2"/>
<path d="M1664.4,771.1V921.5M1650.9,771.1h27M1650.9,921.5h27" stroke="#ff00ff" stroke-width="2.8" fill="none"/>
<path d="M1656.4,827.4l8,-8l8,8l-8,8z" fill="#fff" stroke="#ff00ff" stroke-width="2.2"/>
<path d="M1667.8,550.6V700.9M1654.3,550.6h27M1654.3,700.9h27" stroke="#ff00ff" stroke-width="2.8" fill="none"/>
<path d="M1659.8,610.4l8,-8l8,8l-8,8z" fill="#fff" stroke="#ff00ff" stroke-width="2.2"/>
<path d="M1671.1,690.7V933.3M1657.6,690.7h27M1657.6,933.3h27" stroke="#ff00ff" stroke-width="2.8" fill="none"/>
<path d="M1663.1,780.0l8,-8l8,8l-8,8z" fill="#fff" stroke="#ff00ff" stroke-width="2.2"/>
<path d="M1674.4,722.5V930.0M1660.9,722.5h27M1660.9,930.0h27" stroke="#ff00ff" stroke-width="2.8" fill="none"/>
<path d="M1666.4,805.9l8,-8l8,8l-8,8z" fill="#fff" stroke="#ff00ff" stroke-width="2.2"/>
<path d="M1677.6,605.1V800.4M1664.1,605.1h27M1664.1,800.4h27" stroke="#ff00ff" stroke-width="2.8" fill="none"/>
<path d="M1669.6,669.5l8,-8l8,8l-8,8z" fill="#fff" stroke="#ff00ff" stroke-width="2.2"/>
<path d="M1680.9,615.6V821.5M1667.4,615.6h27M1667.4,821.5h27" stroke="#ff00ff" stroke-width="2.8" fill="none"/>
<path d="M1672.9,699.6l8,-8l8,8l-8,8z" fill="#fff" stroke="#ff00ff" stroke-width="2.2"/>
<path d="M1684.1,751.1V942.3M1670.6,751.1h27M1670.6,942.3h27" stroke="#ff00ff" stroke-width="2.8" fill="none"/>
<path d="M1676.1,819.8l8,-8l8,8l-8,8z" fill="#fff" stroke="#ff00ff" stroke-width="2.2"/>
<path d="M1687.2,666.2V847.7M1673.7,666.2h27M1673.7,847.7h27" stroke="#ff00ff" stroke-width="2.8" fill="none"/>
<path d="M1679.2,754.0l8,-8l8,8l-8,8z" fill="#fff" stroke="#ff00ff" stroke-width="2.2"/>
<path d="M1690.4,535.9V757.7M1676.9,535.9h27M1676.9,757.7h27" stroke="#ff00ff" stroke-width="2.8" fill="none"/>
<path d="M1682.4,620.4l8,-8l8,8l-8,8z" fill="#fff" stroke="#ff00ff" stroke-width="2.2"/>
<path d="M1693.5,595.5V745.0M1680.0,595.5h27M1680.0,745.0h27" stroke="#ff00ff" stroke-width="2.8" fill="none"/>
<path d="M1685.5,655.4l8,-8l8,8l-8,8z" fill="#fff" stroke="#ff00ff" stroke-width="2.2"/>
<path d="M1696.6,580.3V762.5M1683.1,580.3h27M1683.1,762.5h27" stroke="#ff00ff" stroke-width="2.4" fill="none"/>
<path d="M1688.6,649.1l8,-8l8,8l-8,8z" fill="#fff" stroke="#ff00ff" stroke-width="2.2"/>
<path d="M1699.7,740.9V908.0M1686.2,740.9h27M1686.2,908.0h27" stroke="#ff00ff" stroke-width="2.4" fill="none"/>
<path d="M1691.7,826.4l8,-8l8,8l-8,8z" fill="#fff" stroke="#ff00ff" stroke-width="2.2"/>
<path d="M1702.7,588.1V741.6M1689.2,588.1h27M1689.2,741.6h27" stroke="#ff00ff" stroke-width="2.4" fill="none"/>
<path d="M1694.7,659.9l8,-8l8,8l-8,8z" fill="#fff" stroke="#ff00ff" stroke-width="2.2"/>
<path d="M1705.8,606.4V795.8M1692.3,606.4h27M1692.3,795.8h27" stroke="#ff00ff" stroke-width="2.4" fill="none"/>
<path d="M1697.8,690.8l8,-8l8,8l-8,8z" fill="#fff" stroke="#ff00ff" stroke-width="2.2"/>
<path d="M1708.8,508.4V664.3M1695.3,508.4h27M1695.3,664.3h27" stroke="#ff00ff" stroke-width="2.4" fill="none"/>
<path d="M1700.8,581.8l8,-8l8,8l-8,8z" fill="#fff" stroke="#ff00ff" stroke-width="2.2"/>
<path d="M1711.7,624.1V817.5M1698.2,624.1h27M1698.2,817.5h27" stroke="#ff00ff" stroke-width="2.4" fill="none"/>
<path d="M1703.7,704.2l8,-8l8,8l-8,8z" fill="#fff" stroke="#ff00ff" stroke-width="2.2"/>
<path d="M1714.7,626.2V795.1M1701.2,626.2h27M1701.2,795.1h27" stroke="#ff00ff" stroke-width="2.4" fill="none"/>
<path d="M1706.7,715.2l8,-8l8,8l-8,8z" fill="#fff" stroke="#ff00ff" stroke-width="2.2"/>
<path d="M1717.6,592.5V784.8M1704.1,592.5h27M1704.1,784.8h27" stroke="#ff00ff" stroke-width="2.4" fill="none"/>
<path d="M1709.6,671.4l8,-8l8,8l-8,8z" fill="#fff" stroke="#ff00ff" stroke-width="2.2"/>
<path d="M1720.5,547.4V722.3M1707.0,547.4h27M1707.0,722.3h27" stroke="#ff00ff" stroke-width="2.4" fill="none"/>
<path d="M1712.5,642.5l8,-8l8,8l-8,8z" fill="#fff" stroke="#ff00ff" stroke-width="2.2"/>
<path d="M1723.4,543.5V732.9M1709.9,543.5h27M1709.9,732.9h27" stroke="#ff00ff" stroke-width="2.4" fill="none"/>
<path d="M1715.4,611.0l8,-8l8,8l-8,8z" fill="#fff" stroke="#ff00ff" stroke-width="2.2"/>
<path d="M1726.2,522.3V720.3M1712.7,522.3h27M1712.7,720.3h27" stroke="#ff00ff" stroke-width="2.4" fill="none"/>
<path d="M1718.2,611.2l8,-8l8,8l-8,8z" fill="#fff" stroke="#ff00ff" stroke-width="2.2"/>
<path d="M1729.1,578.9V701.4M1715.6,578.9h27M1715.6,701.4h27" stroke="#ff00ff" stroke-width="2.4" fill="none"/>
<path d="M1721.1,631.8l8,-8l8,8l-8,8z" fill="#fff" stroke="#ff00ff" stroke-width="2.2"/>
<path d="M1731.9,659.0V809.4M1718.4,659.0h27M1718.4,809.4h27" stroke="#ff00ff" stroke-width="2.4" fill="none"/>
<path d="M1723.9,739.7l8,-8l8,8l-8,8z" fill="#fff" stroke="#ff00ff" stroke-width="2.2"/>
<path d="M1734.7,475.9V663.6M1721.2,475.9h27M1721.2,663.6h27" stroke="#ff00ff" stroke-width="2.4" fill="none"/>
<path d="M1726.7,567.5l8,-8l8,8l-8,8z" fill="#fff" stroke="#ff00ff" stroke-width="2.2"/>
<path d="M1737.5,511.0V714.6M1724.0,511.0h27M1724.0,714.6h27" stroke="#ff00ff" stroke-width="2.4" fill="none"/>
<path d="M1729.5,589.4l8,-8l8,8l-8,8z" fill="#fff" stroke="#ff00ff" stroke-width="2.2"/>
<path d="M1740.2,648.6V811.5M1726.7,648.6h27M1726.7,811.5h27" stroke="#ff00ff" stroke-width="2.4" fill="none"/>
<path d="M1732.2,740.1l8,-8l8,8l-8,8z" fill="#fff" stroke="#ff00ff" stroke-width="2.2"/>
<path d="M1743.0,517.8V701.8M1729.5,517.8h27M1729.5,701.8h27" stroke="#ff00ff" stroke-width="2.4" fill="none"/>
<path d="M1735.0,588.0l8,-8l8,8l-8,8z" fill="#fff" stroke="#ff00ff" stroke-width="2.2"/>
<path d="M1745.7,544.6V718.6M1732.2,544.6h27M1732.2,718.6h27" stroke="#ff00ff" stroke-width="2.4" fill="none"/>
<path d="M1737.7,604.6l8,-8l8,8l-8,8z" fill="#fff" stroke="#ff00ff" stroke-width="2.2"/>
<path d="M1748.4,540.3V685.9M1734.9,540.3h27M1734.9,685.9h27" stroke="#ff00ff" stroke-width="2.4" fill="none"/>
<path d="M1740.4,596.6l8,-8l8,8l-8,8z" fill="#fff" stroke="#ff00ff" stroke-width="2.2"/>
<path d="M1751.0,601.1V785.9M1737.5,601.1h27M1737.5,785.9h27" stroke="#ff00ff" stroke-width="2.4" fill="none"/>
<path d="M1743.0,684.7l8,-8l8,8l-8,8z" fill="#fff" stroke="#ff00ff" stroke-width="2.2"/>
<path d="M1753.7,516.6V676.5M1740.2,516.6h27M1740.2,676.5h27" stroke="#ff00ff" stroke-width="2.4" fill="none"/>
<path d="M1745.7,589.0l8,-8l8,8l-8,8z" fill="#fff" stroke="#ff00ff" stroke-width="2.2"/>
<path d="M1756.3,488.3V658.0M1742.8,488.3h27M1742.8,658.0h27" stroke="#ff00ff" stroke-width="2.4" fill="none"/>
<path d="M1748.3,552.0l8,-8l8,8l-8,8z" fill="#fff" stroke="#ff00ff" stroke-width="2.2"/>
<path d="M1758.9,583.3V764.5M1745.4,583.3h27M1745.4,764.5h27" stroke="#ff00ff" stroke-width="2.4" fill="none"/>
<path d="M1750.9,671.2l8,-8l8,8l-8,8z" fill="#fff" stroke="#ff00ff" stroke-width="2.2"/>
<path d="M1761.5,558.6V735.0M1748.0,558.6h27M1748.0,735.0h27" stroke="#ff00ff" stroke-width="2.4" fill="none"/>
<path d="M1753.5,632.5l8,-8l8,8l-8,8z" fill="#fff" stroke="#ff00ff" stroke-width="2.2"/>
<path d="M1764.1,588.2V786.7M1750.6,588.2h27M1750.6,786.7h27" stroke="#ff00ff" stroke-width="2.4" fill="none"/>
<path d="M1756.1,672.6l8,-8l8,8l-8,8z" fill="#fff" stroke="#ff00ff" stroke-width="2.2"/>
<path d="M1766.7,558.2V696.2M1753.2,558.2h27M1753.2,696.2h27" stroke="#ff00ff" stroke-width="2.4" fill="none"/>
<path d="M1758.7,625.8l8,-8l8,8l-8,8z" fill="#fff" stroke="#ff00ff" stroke-width="2.2"/>
<path d="M1769.2,587.5V738.8M1755.7,587.5h27M1755.7,738.8h27" stroke="#ff00ff" stroke-width="2.4" fill="none"/>
<path d="M1761.2,653.7l8,-8l8,8l-8,8z" fill="#fff" stroke="#ff00ff" stroke-width="2.2"/>
<path d="M1771.8,574.1V733.8M1758.3,574.1h27M1758.3,733.8h27" stroke="#ff00ff" stroke-width="2.4" fill="none"/>
<path d="M1763.8,655.4l8,-8l8,8l-8,8z" fill="#fff" stroke="#ff00ff" stroke-width="2.2"/>
<path d="M1774.3,479.1V676.0M1760.8,479.1h27M1760.8,676.0h27" stroke="#ff00ff" stroke-width="2.4" fill="none"/>
<path d="M1766.3,566.3l8,-8l8,8l-8,8z" fill="#fff" stroke="#ff00ff" stroke-width="2.2"/>
<path d="M1776.8,543.8V721.0M1763.3,543.8h27M1763.3,721.0h27" stroke="#ff00ff" stroke-width="2.4" fill="none"/>
<path d="M1768.8,638.2l8,-8l8,8l-8,8z" fill="#fff" stroke="#ff00ff" stroke-width="2.2"/>
<path d="M1779.2,479.9V649.3M1765.7,479.9h27M1765.7,649.3h27" stroke="#ff00ff" stroke-width="2.4" fill="none"/>
<path d="M1771.2,563.6l8,-8l8,8l-8,8z" fill="#fff" stroke="#ff00ff" stroke-width="2.2"/>
<path d="M1781.7,500.5V648.0M1768.2,500.5h27M1768.2,648.0h27" stroke="#ff00ff" stroke-width="2.4" fill="none"/>
<path d="M1773.7,578.0l8,-8l8,8l-8,8z" fill="#fff" stroke="#ff00ff" stroke-width="2.2"/>
<path d="M1784.1,549.2V760.4M1770.6,549.2h27M1770.6,760.4h27" stroke="#ff00ff" stroke-width="2.4" fill="none"/>
<path d="M1776.1,642.2l8,-8l8,8l-8,8z" fill="#fff" stroke="#ff00ff" stroke-width="2.2"/>
<path d="M1786.6,551.2V720.6M1773.1,551.2h27M1773.1,720.6h27" stroke="#ff00ff" stroke-width="2.4" fill="none"/>
<path d="M1778.6,645.7l8,-8l8,8l-8,8z" fill="#fff" stroke="#ff00ff" stroke-width="2.2"/>
<path d="M1789.0,626.8V759.0M1775.5,626.8h27M1775.5,759.0h27" stroke="#ff00ff" stroke-width="2.4" fill="none"/>
<path d="M1781.0,691.7l8,-8l8,8l-8,8z" fill="#fff" stroke="#ff00ff" stroke-width="2.2"/>
<path d="M1791.4,627.6V768.2M1777.9,627.6h27M1777.9,768.2h27" stroke="#ff00ff" stroke-width="2.4" fill="none"/>
<path d="M1783.4,691.9l8,-8l8,8l-8,8z" fill="#fff" stroke="#ff00ff" stroke-width="2.2"/>
<path d="M1793.8,700.0V830.0M1780.3,700.0h27M1780.3,830.0h27" stroke="#ff00ff" stroke-width="2.4" fill="none"/>
<path d="M1785.8,779.0l8,-8l8,8l-8,8z" fill="#fff" stroke="#ff00ff" stroke-width="2.2"/>
<path d="M1796.1,877.0V977.0M1782.6,877.0h27M1782.6,977.0h27" stroke="#ff00ff" stroke-width="2.4" fill="none"/>
<path d="M1788.1,925.0l8,-8l8,8l-8,8z" fill="#fff" stroke="#ff00ff" stroke-width="2.2"/>
<path d="M1798.5,1330.0V1700.0M1785.0,1330.0h27M1785.0,1700.0h27" stroke="#ff00ff" stroke-width="2.4" fill="none"/>
<path d="M1790.5,1600.0l8,-8l8,8l-8,8z" fill="#fff" stroke="#ff00ff" stroke-width="2.2"/>
<path d="M1307.9,512.5V638.0M1294.4,512.5h27M1294.4,638.0h27" stroke="#ff00ff" stroke-width="2.8" fill="none"/>
<path d="M1299.9,571.5l8,-8l8,8l-8,8z" fill="#fff" stroke="#ff00ff" stroke-width="2.2"/>
<path d="M1469.6,926.8V1268.7M1456.1,926.8h27M1456.1,1268.7h27" stroke="#ff00ff" stroke-width="2.8" fill="none"/>
<path d="M1461.6,1066.8l8,-8l8,8l-8,8z" fill="#fff" stroke="#ff00ff" stroke-width="2.2"/>
<path d="M1491.7,859.8V1146.8M1478.2,859.8h27M1478.2,1146.8h27" stroke="#ff00ff" stroke-width="2.8" fill="none"/>
<path d="M1483.7,983.0l8,-8l8,8l-8,8z" fill="#fff" stroke="#ff00ff" stroke-width="2.2"/>
<path d="M1497.1,881.8V1188.0M1483.6,881.8h27M1483.6,1188.0h27" stroke="#ff00ff" stroke-width="2.8" fill="none"/>
<path d="M1489.1,1011.8l8,-8l8,8l-8,8z" fill="#fff" stroke="#ff00ff" stroke-width="2.2"/>
<path d="M1512.6,859.4V1147.5M1499.1,859.4h27M1499.1,1147.5h27" stroke="#ff00ff" stroke-width="2.8" fill="none"/>
<path d="M1504.6,983.0l8,-8l8,8l-8,8z" fill="#fff" stroke="#ff00ff" stroke-width="2.2"/>
<path d="M1532.3,858.0V1150.0M1518.8,858.0h27M1518.8,1150.0h27" stroke="#ff00ff" stroke-width="2.8" fill="none"/>
<path d="M1524.3,983.0l8,-8l8,8l-8,8z" fill="#fff" stroke="#ff00ff" stroke-width="2.2"/>
<path d="M1537.1,862.3V1158.3M1523.6,862.3h27M1523.6,1158.3h27" stroke="#ff00ff" stroke-width="2.8" fill="none"/>
<path d="M1529.1,988.7l8,-8l8,8l-8,8z" fill="#fff" stroke="#ff00ff" stroke-width="2.2"/>
<path d="M1541.8,977.2V1346.0M1528.3,977.2h27M1528.3,1346.0h27" stroke="#ff00ff" stroke-width="2.8" fill="none"/>
<path d="M1533.8,1117.2l8,-8l8,8l-8,8z" fill="#fff" stroke="#ff00ff" stroke-width="2.2"/>
<path d="M1573.3,914.6V1250.6M1559.8,914.6h27M1559.8,1250.6h27" stroke="#ff00ff" stroke-width="2.8" fill="none"/>
<path d="M1565.3,1054.6l8,-8l8,8l-8,8z" fill="#fff" stroke="#ff00ff" stroke-width="2.2"/>
<path d="M1617.8,1081.5V1500.0M1604.3,1081.5h27M1604.3,1500.0h27" stroke="#ff00ff" stroke-width="2.8" fill="none"/>
<path d="M1609.8,1171.5l8,-8l8,8l-8,8z" fill="#fff" stroke="#ff00ff" stroke-width="2.2"/>
<path d="M1621.6,952.2V1150.0M1608.1,952.2h27M1608.1,1150.0h27" stroke="#ff00ff" stroke-width="2.8" fill="none"/>
<path d="M1613.6,1041.4l8,-8l8,8l-8,8z" fill="#fff" stroke="#ff00ff" stroke-width="2.2"/>
</g>
<g clip-path="url(#pc)" fill="none" stroke-width="13.5" stroke-linecap="round" stroke-linejoin="round">
<path d="M506.8,910.2 C516.4,910.4 545.6,911.6 564.6,911.6 C583.6,911.6 602.2,910.8 621.0,910.2 C639.8,909.6 658.6,908.9 677.4,908.0 C696.2,907.1 715.0,905.9 733.8,904.6 C752.6,903.3 771.4,901.9 790.2,900.3 C809.0,898.6 827.8,896.8 846.6,894.7 C865.4,892.6 884.2,890.0 903.0,887.6 C921.8,885.2 943.2,882.6 959.4,880.6 C975.6,878.6 986.6,877.1 1000.0,875.5 C1013.4,873.9 1026.0,873.0 1040.0,870.9 C1054.0,868.8 1069.3,866.5 1083.9,862.6 C1098.5,858.8 1113.2,852.6 1127.8,847.8 C1142.4,842.9 1157.1,838.6 1171.7,833.5 C1186.3,828.4 1201.4,822.3 1215.6,817.0 C1229.8,811.7 1245.7,806.0 1257.1,801.7 C1268.5,797.5 1275.2,795.1 1284.2,791.5 C1293.2,787.9 1302.2,783.9 1311.3,780.0 C1320.3,776.1 1329.5,771.7 1338.5,768.0 C1347.5,764.3 1355.7,760.8 1365.0,758.0 C1374.3,755.2 1383.1,753.1 1394.5,751.5 C1405.9,749.9 1422.7,749.0 1433.6,748.5 C1444.5,748.0 1451.0,747.7 1460.0,748.5 C1469.0,749.3 1475.8,749.5 1487.8,753.2 C1499.8,756.9 1517.1,763.4 1531.7,770.7 C1546.3,778.0 1561.0,786.3 1575.6,797.0 C1590.2,807.7 1604.9,821.3 1619.5,835.0 C1634.1,848.7 1651.2,868.2 1663.4,879.0 C1675.6,889.8 1682.8,893.7 1692.6,899.5 C1702.3,905.3 1712.7,910.8 1721.9,914.0 C1731.1,917.2 1743.7,917.8 1748.0,918.5" stroke="#0000ff"/>
<path d="M506.5,634.0 C511.5,637.7 522.9,646.6 536.4,656.4 C549.9,666.2 570.3,681.7 587.2,693.0 C604.1,704.3 620.0,714.2 637.9,724.1 C655.8,734.0 676.0,744.3 694.3,752.3 C712.6,760.3 731.9,766.8 747.9,772.0 C763.9,777.2 778.5,780.9 790.2,783.3 C802.0,785.6 806.6,786.3 818.4,786.1 C830.1,785.9 846.6,784.2 860.7,781.9 C874.8,779.5 891.5,774.5 903.0,772.0 C914.5,769.5 919.7,770.2 930.0,767.0 C940.3,763.8 953.3,757.8 965.0,753.0 C976.7,748.2 988.0,744.2 1000.0,738.2 C1012.0,732.2 1025.6,722.8 1037.3,717.0 C1049.0,711.2 1061.9,706.7 1070.0,703.3 C1078.1,699.9 1076.8,700.1 1086.0,696.6 C1095.2,693.1 1112.0,685.8 1125.0,682.0 C1138.0,678.2 1151.0,675.6 1164.0,674.0 C1177.0,672.4 1190.0,671.3 1203.0,672.3 C1216.0,673.3 1229.2,675.4 1242.0,680.0 C1254.8,684.6 1267.0,692.2 1280.0,700.0 C1293.0,707.8 1306.7,718.2 1320.0,727.0 C1333.3,735.8 1346.7,744.3 1360.0,753.0 C1373.3,761.7 1388.3,772.2 1400.0,779.0 C1411.7,785.8 1420.0,790.2 1430.0,794.0 C1440.0,797.8 1450.0,800.2 1460.0,802.0 C1470.0,803.8 1480.5,804.5 1490.0,805.0 C1499.5,805.5 1502.7,805.0 1517.0,805.0 C1531.3,805.0 1546.3,804.9 1575.6,804.8 C1604.9,804.7 1663.9,804.7 1692.6,804.6 C1721.3,804.5 1738.8,804.4 1748.0,804.4" stroke="#ff00ff"/>
<path d="M846.7,146.5 C847.0,147.3 845.5,142.1 848.2,151.4 C851.0,160.7 858.4,185.8 863.2,202.2 C868.1,218.6 871.8,232.6 877.3,249.9 C882.8,267.2 889.6,287.9 895.9,305.9 C902.2,323.9 909.6,342.2 915.0,357.7 C920.4,373.2 924.2,385.4 928.5,399.1 C932.8,412.8 936.7,425.9 941.0,440.0 C945.3,454.1 949.5,469.3 954.1,483.9 C958.7,498.5 964.0,513.2 968.8,527.8 C973.6,542.4 978.7,557.1 983.1,571.7 C987.5,586.3 990.6,601.0 995.2,615.6 C999.8,630.2 1006.0,644.8 1010.5,659.4 C1015.0,674.0 1017.9,688.7 1022.2,703.3 C1026.5,717.9 1031.4,734.1 1036.4,747.2 C1041.4,760.3 1048.1,772.5 1052.1,782.0 C1056.1,791.5 1057.5,796.6 1060.3,803.9 C1063.1,811.2 1065.8,818.6 1069.1,825.9 C1072.4,833.2 1076.1,840.5 1080.1,847.8 C1084.1,855.1 1088.3,862.5 1093.2,869.8 C1098.1,877.1 1103.4,884.7 1109.2,891.7 C1115.0,898.7 1121.8,907.2 1127.8,912.0 C1133.8,916.8 1139.5,918.5 1145.0,920.5 C1150.5,922.5 1155.4,924.2 1160.7,924.1 C1166.0,924.0 1171.5,922.4 1177.0,920.0 C1182.5,917.6 1188.2,914.0 1193.7,909.8 C1199.2,905.6 1204.0,900.6 1210.0,895.0 C1216.0,889.4 1222.2,883.4 1230.0,876.2 C1237.8,869.0 1248.1,860.0 1257.1,851.8 C1266.1,843.6 1275.2,835.7 1284.2,826.8 C1293.2,817.9 1302.2,807.2 1311.3,798.3 C1320.3,789.4 1329.5,779.8 1338.5,773.2 C1347.5,766.7 1356.6,762.4 1365.6,759.0 C1374.6,755.6 1383.7,753.5 1392.7,752.6 C1401.7,751.7 1410.8,752.2 1419.8,753.6 C1428.8,755.0 1437.9,757.5 1446.9,761.0 C1455.9,764.5 1465.2,769.3 1474.0,774.6 C1482.8,779.9 1492.3,786.6 1500.0,793.0 C1507.7,799.4 1512.3,803.5 1520.0,813.0 C1527.7,822.5 1537.0,835.8 1546.3,849.7 C1555.6,863.6 1565.8,880.9 1575.6,896.5 C1585.3,912.1 1595.1,926.8 1604.8,943.4 C1614.5,960.0 1624.2,978.5 1634.0,996.0 C1643.8,1013.5 1653.6,1027.9 1663.4,1048.7 C1673.2,1069.5 1687.7,1109.0 1692.6,1121.0" stroke="#000000"/>
</g>
<text x="203" y="168" text-anchor="end" style='font-family:"Liberation Sans",Arial,sans-serif;font-size:54px'>0.1</text>
<text x="203" y="1320" text-anchor="end" style='font-family:"Liberation Sans",Arial,sans-serif;font-size:54px'>0.01</text>
<text x="244.5" y="1499" text-anchor="middle" style='font-family:"Liberation Sans",Arial,sans-serif;font-size:54px'>0.1</text>
<text x="1097" y="1499" text-anchor="middle" style='font-family:"Liberation Sans",Arial,sans-serif;font-size:54px'>1</text>
<text x="1030" y="1609" text-anchor="middle" style='font-family:"Liberation Sans",Arial,sans-serif;font-size:66px'>q(nm<tspan dy="-27" style="font-size:44px">-1</tspan><tspan dy="27">)</tspan></text>
<text transform="translate(71,783) rotate(-90)" text-anchor="middle" style='font-family:"Liberation Sans",Arial,sans-serif;font-size:66px'>I(m<tspan dy="-27" style="font-size:44px">-1</tspan><tspan dy="27">)</tspan></text>
<g fill="#000">
<rect x="976" y="21" width="581" height="3"/><rect x="976" y="21" width="2" height="350"/>
<rect x="1554" y="21" width="3" height="350"/><rect x="976" y="369" width="581" height="2"/>
</g>
<rect x="1053" y="62" width="11" height="11" fill="none" stroke="#000" stroke-width="2.2"/>
<path d="M1050.5,144h16l-8,13.5z" fill="none" stroke="#0000ff" stroke-width="2.2"/>
<path d="M1050.5,229l8.5,-8.5l8.5,8.5l-8.5,8.5z" fill="none" stroke="#ff00ff" stroke-width="2.2"/>
<text x="1148" y="90" style='font-family:"Liberation Serif","Times New Roman",serif;font-size:66px'>L</text>
<text x="1148" y="170" style='font-family:"Liberation Serif","Times New Roman",serif;font-size:66px'>L/C</text>
<text x="1148" y="250" style='font-family:"Liberation Serif","Times New Roman",serif;font-size:66px'>L/C/P<tspan dy="18" style="font-size:46px">14</tspan><tspan dy="-18"> (7:1:2)</tspan></text>
</svg>
</body></html>
